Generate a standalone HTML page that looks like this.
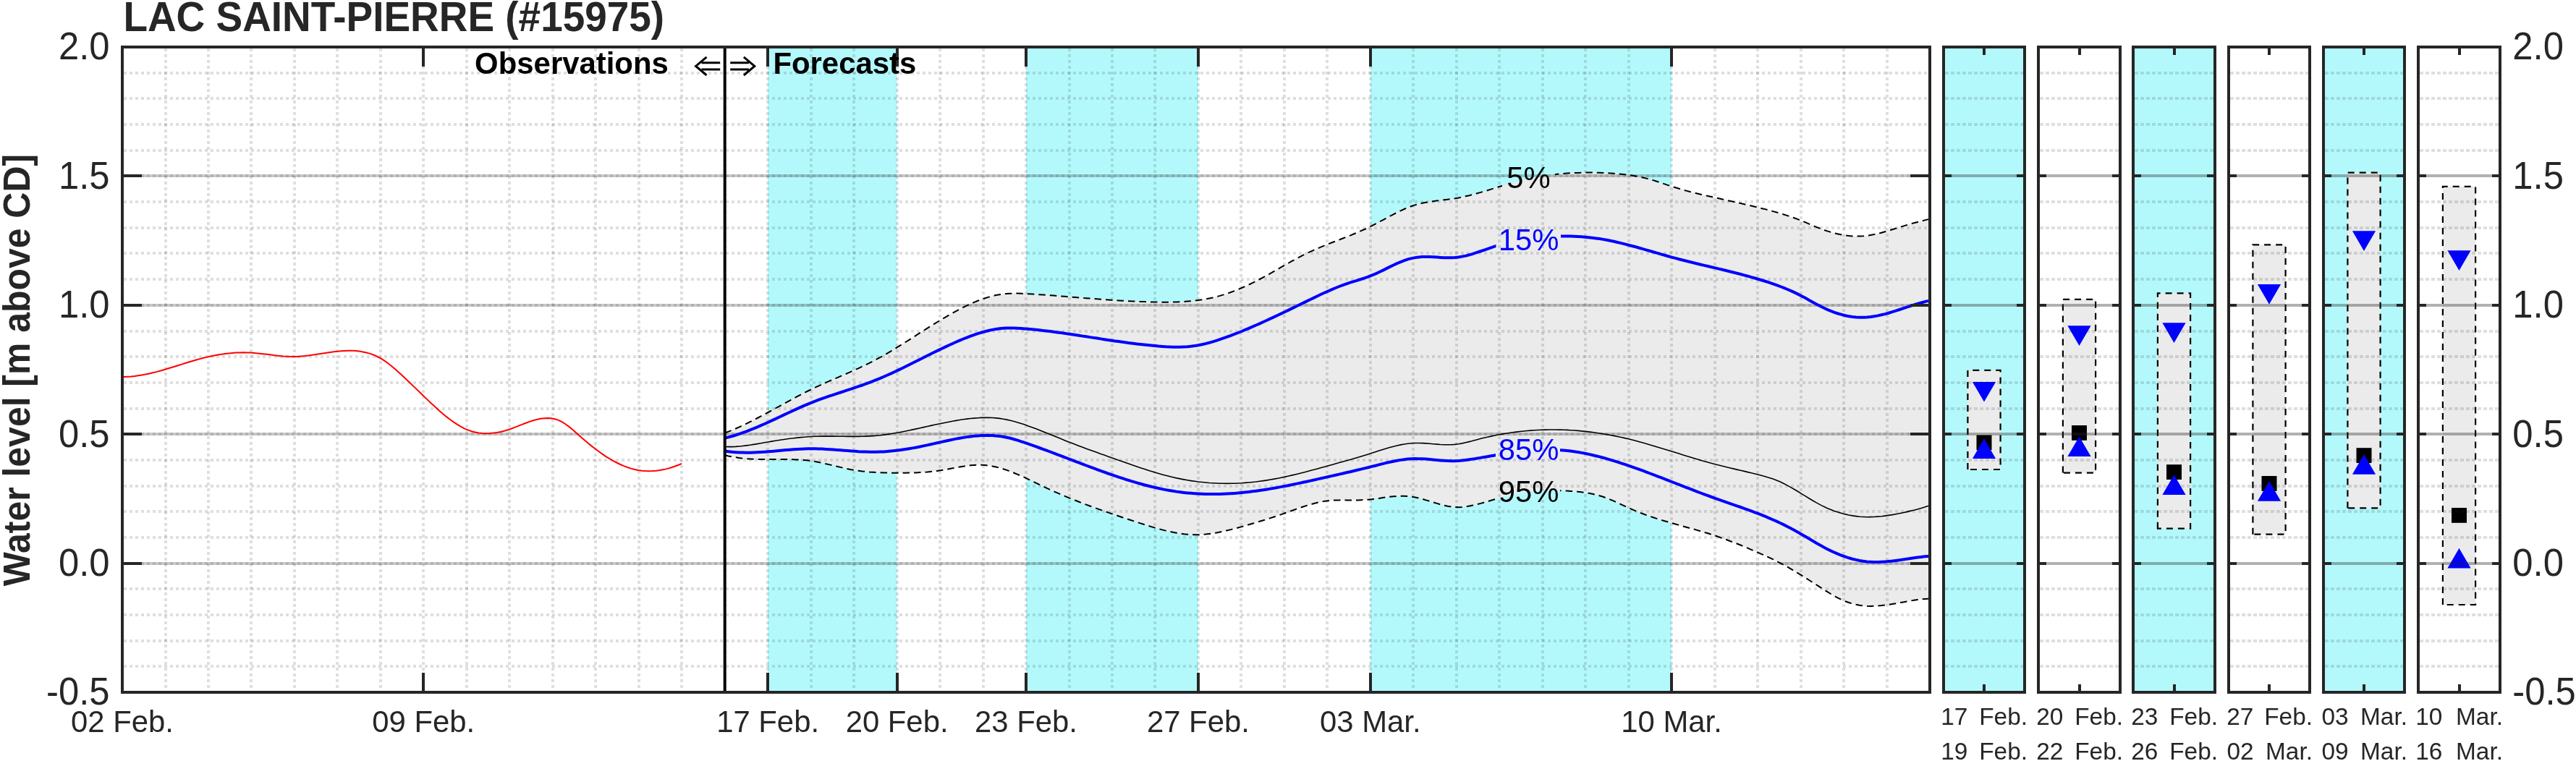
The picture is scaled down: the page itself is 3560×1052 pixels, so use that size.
<!DOCTYPE html>
<html><head><meta charset="utf-8"><title>LAC SAINT-PIERRE (#15975)</title>
<style>html,body{margin:0;padding:0;background:#fff;}body{width:3560px;height:1052px;overflow:hidden;}svg{display:block;will-change:transform;}text{font-family:"Liberation Sans", sans-serif;}</style></head><body>
<svg width="3560" height="1052" viewBox="0 0 3560 1052">
<rect x="0" y="0" width="3560" height="1052" fill="#fff"/>
<rect x="1061.1" y="65.0" width="178.4" height="892.0" fill="#b3f9fc"/>
<rect x="1418.0" y="65.0" width="237.9" height="892.0" fill="#b3f9fc"/>
<rect x="1893.8" y="65.0" width="416.3" height="892.0" fill="#b3f9fc"/>
<path d="M1001.7 598.5 L1006.7 596.6 L1011.7 594.6 L1016.7 592.5 L1021.6 590.3 L1026.6 588.0 L1031.6 585.6 L1036.6 583.1 L1041.6 580.6 L1046.6 578.0 L1051.6 575.4 L1056.6 572.7 L1061.6 570.0 L1066.6 567.3 L1071.6 564.5 L1076.6 561.8 L1081.6 559.0 L1086.6 556.3 L1091.6 553.6 L1096.6 550.9 L1101.6 548.2 L1106.6 545.6 L1111.6 543.0 L1116.6 540.5 L1121.5 538.0 L1126.5 535.7 L1131.5 533.3 L1136.5 531.1 L1141.5 528.8 L1146.5 526.6 L1151.5 524.4 L1156.5 522.3 L1161.5 520.1 L1166.5 518.0 L1171.5 515.8 L1176.5 513.6 L1181.5 511.3 L1186.5 509.1 L1191.5 506.7 L1196.5 504.3 L1201.5 501.9 L1206.5 499.3 L1211.5 496.7 L1216.5 494.0 L1221.4 491.2 L1226.4 488.3 L1231.4 485.3 L1236.4 482.3 L1241.4 479.2 L1246.4 476.1 L1251.4 473.0 L1256.4 469.8 L1261.4 466.6 L1266.4 463.4 L1271.4 460.2 L1276.4 457.1 L1281.4 453.9 L1286.4 450.7 L1291.4 447.6 L1296.4 444.5 L1301.4 441.5 L1306.4 438.6 L1311.4 435.6 L1316.4 432.8 L1321.3 430.1 L1326.3 427.4 L1331.3 424.9 L1336.3 422.4 L1341.3 420.1 L1346.3 417.9 L1351.3 415.8 L1356.3 413.9 L1361.3 412.2 L1366.3 410.6 L1371.3 409.3 L1376.3 408.1 L1381.3 407.2 L1386.3 406.4 L1391.3 405.9 L1396.3 405.7 L1401.3 405.6 L1406.3 405.6 L1411.3 405.8 L1416.3 406.0 L1421.2 406.2 L1426.2 406.5 L1431.2 406.8 L1436.2 407.2 L1441.2 407.5 L1446.2 407.8 L1451.2 408.2 L1456.2 408.6 L1461.2 409.0 L1466.2 409.4 L1471.2 409.8 L1476.2 410.2 L1481.2 410.6 L1486.2 411.0 L1491.2 411.4 L1496.2 411.8 L1501.2 412.2 L1506.2 412.6 L1511.2 412.9 L1516.2 413.3 L1521.1 413.7 L1526.1 414.1 L1531.1 414.4 L1536.1 414.8 L1541.1 415.1 L1546.1 415.4 L1551.1 415.7 L1556.1 416.0 L1561.1 416.3 L1566.1 416.5 L1571.1 416.7 L1576.1 416.9 L1581.1 417.1 L1586.1 417.3 L1591.1 417.4 L1596.1 417.6 L1601.1 417.6 L1606.1 417.7 L1611.1 417.7 L1616.1 417.7 L1621.0 417.6 L1626.0 417.5 L1631.0 417.3 L1636.0 417.0 L1641.0 416.6 L1646.0 416.2 L1651.0 415.7 L1656.0 415.0 L1661.0 414.3 L1666.0 413.5 L1671.0 412.5 L1676.0 411.4 L1681.0 410.2 L1686.0 408.9 L1691.0 407.4 L1696.0 405.8 L1701.0 404.0 L1706.0 402.1 L1711.0 400.1 L1716.0 398.0 L1720.9 395.8 L1725.9 393.5 L1730.9 391.1 L1735.9 388.6 L1740.9 386.0 L1745.9 383.3 L1750.9 380.6 L1755.9 377.8 L1760.9 374.9 L1765.9 372.1 L1770.9 369.2 L1775.9 366.3 L1780.9 363.5 L1785.9 360.7 L1790.9 358.0 L1795.9 355.3 L1800.9 352.7 L1805.9 350.3 L1810.9 347.9 L1815.9 345.6 L1820.8 343.5 L1825.8 341.4 L1830.8 339.3 L1835.8 337.3 L1840.8 335.3 L1845.8 333.4 L1850.8 331.5 L1855.8 329.5 L1860.8 327.5 L1865.8 325.6 L1870.8 323.5 L1875.8 321.4 L1880.8 319.2 L1885.8 317.0 L1890.8 314.6 L1895.8 312.2 L1900.8 309.6 L1905.8 306.9 L1910.8 304.3 L1915.8 301.6 L1920.7 298.9 L1925.7 296.3 L1930.7 293.7 L1935.7 291.3 L1940.7 289.0 L1945.7 286.9 L1950.7 285.0 L1955.7 283.4 L1960.7 282.0 L1965.7 280.8 L1970.7 279.8 L1975.7 278.9 L1980.7 278.2 L1985.7 277.5 L1990.7 276.9 L1995.7 276.3 L2000.7 275.7 L2005.7 275.0 L2010.7 274.3 L2015.7 273.4 L2020.6 272.4 L2025.6 271.3 L2030.6 270.2 L2035.6 268.9 L2040.6 267.5 L2045.6 266.1 L2050.6 264.7 L2055.6 263.2 L2060.6 261.6 L2065.6 260.1 L2070.6 258.5 L2075.6 257.0 L2080.6 255.5 L2085.6 254.0 L2090.6 252.6 L2095.6 251.2 L2100.6 249.9 L2105.6 248.6 L2110.6 247.5 L2115.6 246.4 L2120.5 245.4 L2125.5 244.5 L2130.5 243.6 L2135.5 242.8 L2140.5 242.1 L2145.5 241.5 L2150.5 240.9 L2155.5 240.4 L2160.5 240.0 L2165.5 239.6 L2170.5 239.3 L2175.5 239.0 L2180.5 238.9 L2185.5 238.7 L2190.5 238.6 L2195.5 238.6 L2200.5 238.6 L2205.5 238.7 L2210.5 238.8 L2215.5 239.0 L2220.4 239.2 L2225.4 239.5 L2230.4 239.8 L2235.4 240.2 L2240.4 240.7 L2245.4 241.2 L2250.4 241.8 L2255.4 242.5 L2260.4 243.4 L2265.4 244.3 L2270.4 245.4 L2275.4 246.6 L2280.4 247.9 L2285.4 249.4 L2290.4 251.0 L2295.4 252.7 L2300.4 254.4 L2305.4 256.1 L2310.4 257.7 L2315.4 259.3 L2320.3 260.8 L2325.3 262.3 L2330.3 263.6 L2335.3 265.0 L2340.3 266.2 L2345.3 267.5 L2350.3 268.7 L2355.3 269.8 L2360.3 271.0 L2365.3 272.1 L2370.3 273.2 L2375.3 274.3 L2380.3 275.4 L2385.3 276.6 L2390.3 277.7 L2395.3 278.8 L2400.3 279.9 L2405.3 281.0 L2410.3 282.2 L2415.3 283.3 L2420.2 284.5 L2425.2 285.7 L2430.2 286.9 L2435.2 288.2 L2440.2 289.4 L2445.2 290.7 L2450.2 292.1 L2455.2 293.5 L2460.2 294.9 L2465.2 296.5 L2470.2 298.1 L2475.2 299.7 L2480.2 301.5 L2485.2 303.4 L2490.2 305.4 L2495.2 307.4 L2500.2 309.6 L2505.2 311.7 L2510.2 313.8 L2515.2 315.8 L2520.1 317.7 L2525.1 319.4 L2530.1 320.9 L2535.1 322.3 L2540.1 323.5 L2545.1 324.6 L2550.1 325.4 L2555.1 326.0 L2560.1 326.4 L2565.1 326.6 L2570.1 326.6 L2575.1 326.3 L2580.1 325.8 L2585.1 325.0 L2590.1 324.1 L2595.1 323.0 L2600.1 321.7 L2605.1 320.3 L2610.1 318.9 L2615.1 317.3 L2620.0 315.8 L2625.0 314.2 L2630.0 312.6 L2635.0 311.1 L2640.0 309.6 L2645.0 308.3 L2650.0 307.0 L2655.0 305.7 L2660.0 304.4 L2665.0 303.1 L2665.0 827.7 L2660.0 828.0 L2655.0 828.5 L2650.0 829.1 L2645.0 829.8 L2640.0 830.6 L2635.0 831.5 L2630.0 832.4 L2625.0 833.3 L2620.0 834.2 L2615.1 835.0 L2610.1 835.8 L2605.1 836.5 L2600.1 837.1 L2595.1 837.5 L2590.1 837.8 L2585.1 837.9 L2580.1 837.7 L2575.1 837.3 L2570.1 836.7 L2565.1 835.7 L2560.1 834.5 L2555.1 833.0 L2550.1 831.2 L2545.1 829.0 L2540.1 826.6 L2535.1 823.9 L2530.1 821.0 L2525.1 817.9 L2520.1 814.8 L2515.2 811.6 L2510.2 808.4 L2505.2 805.2 L2500.2 802.0 L2495.2 798.8 L2490.2 795.7 L2485.2 792.6 L2480.2 789.6 L2475.2 786.6 L2470.2 783.7 L2465.2 780.9 L2460.2 778.3 L2455.2 775.7 L2450.2 773.2 L2445.2 770.8 L2440.2 768.5 L2435.2 766.3 L2430.2 764.1 L2425.2 761.9 L2420.2 759.8 L2415.3 757.7 L2410.3 755.6 L2405.3 753.5 L2400.3 751.5 L2395.3 749.6 L2390.3 747.7 L2385.3 745.8 L2380.3 744.0 L2375.3 742.2 L2370.3 740.5 L2365.3 738.9 L2360.3 737.3 L2355.3 735.8 L2350.3 734.3 L2345.3 732.9 L2340.3 731.4 L2335.3 730.0 L2330.3 728.7 L2325.3 727.3 L2320.3 725.9 L2315.4 724.5 L2310.4 723.1 L2305.4 721.6 L2300.4 720.2 L2295.4 718.7 L2290.4 717.1 L2285.4 715.5 L2280.4 713.8 L2275.4 712.1 L2270.4 710.2 L2265.4 708.3 L2260.4 706.3 L2255.4 704.2 L2250.4 702.0 L2245.4 699.7 L2240.4 697.4 L2235.4 695.0 L2230.4 692.7 L2225.4 690.6 L2220.4 688.6 L2215.5 686.8 L2210.5 685.3 L2205.5 683.9 L2200.5 682.8 L2195.5 681.8 L2190.5 681.0 L2185.5 680.3 L2180.5 679.7 L2175.5 679.3 L2170.5 678.9 L2165.5 678.6 L2160.5 678.4 L2155.5 678.3 L2150.5 678.1 L2145.5 678.1 L2140.5 678.0 L2135.5 678.1 L2130.5 678.2 L2125.5 678.5 L2120.5 678.8 L2115.6 679.3 L2110.6 679.8 L2105.6 680.5 L2100.6 681.4 L2095.6 682.4 L2090.6 683.5 L2085.6 684.7 L2080.6 686.1 L2075.6 687.4 L2070.6 688.9 L2065.6 690.3 L2060.6 691.8 L2055.6 693.3 L2050.6 694.7 L2045.6 696.1 L2040.6 697.4 L2035.6 698.5 L2030.6 699.6 L2025.6 700.4 L2020.6 701.0 L2015.7 701.2 L2010.7 701.1 L2005.7 700.6 L2000.7 699.8 L1995.7 698.7 L1990.7 697.4 L1985.7 695.9 L1980.7 694.4 L1975.7 692.9 L1970.7 691.4 L1965.7 689.9 L1960.7 688.6 L1955.7 687.5 L1950.7 686.7 L1945.7 686.1 L1940.7 685.8 L1935.7 685.8 L1930.7 685.9 L1925.7 686.3 L1920.7 686.8 L1915.8 687.4 L1910.8 688.1 L1905.8 688.9 L1900.8 689.6 L1895.8 690.2 L1890.8 690.7 L1885.8 691.0 L1880.8 691.2 L1875.8 691.4 L1870.8 691.4 L1865.8 691.4 L1860.8 691.4 L1855.8 691.3 L1850.8 691.4 L1845.8 691.5 L1840.8 691.7 L1835.8 692.2 L1830.8 692.8 L1825.8 693.7 L1820.8 694.7 L1815.9 696.0 L1810.9 697.4 L1805.9 698.9 L1800.9 700.5 L1795.9 702.2 L1790.9 703.9 L1785.9 705.7 L1780.9 707.5 L1775.9 709.3 L1770.9 711.1 L1765.9 712.8 L1760.9 714.5 L1755.9 716.1 L1750.9 717.7 L1745.9 719.3 L1740.9 720.8 L1735.9 722.3 L1730.9 723.8 L1725.9 725.3 L1720.9 726.7 L1716.0 728.1 L1711.0 729.5 L1706.0 730.8 L1701.0 732.1 L1696.0 733.3 L1691.0 734.5 L1686.0 735.5 L1681.0 736.5 L1676.0 737.3 L1671.0 738.0 L1666.0 738.6 L1661.0 739.0 L1656.0 739.2 L1651.0 739.2 L1646.0 739.0 L1641.0 738.7 L1636.0 738.2 L1631.0 737.5 L1626.0 736.7 L1621.0 735.8 L1616.1 734.8 L1611.1 733.6 L1606.1 732.4 L1601.1 731.0 L1596.1 729.6 L1591.1 728.1 L1586.1 726.6 L1581.1 725.0 L1576.1 723.4 L1571.1 721.8 L1566.1 720.1 L1561.1 718.5 L1556.1 716.8 L1551.1 715.2 L1546.1 713.5 L1541.1 711.8 L1536.1 710.1 L1531.1 708.4 L1526.1 706.6 L1521.1 704.9 L1516.2 703.1 L1511.2 701.3 L1506.2 699.5 L1501.2 697.6 L1496.2 695.7 L1491.2 693.8 L1486.2 691.8 L1481.2 689.8 L1476.2 687.8 L1471.2 685.7 L1466.2 683.6 L1461.2 681.4 L1456.2 679.2 L1451.2 676.9 L1446.2 674.6 L1441.2 672.2 L1436.2 669.8 L1431.2 667.4 L1426.2 664.9 L1421.2 662.6 L1416.3 660.2 L1411.3 657.9 L1406.3 655.8 L1401.3 653.7 L1396.3 651.7 L1391.3 649.9 L1386.3 648.2 L1381.3 646.7 L1376.3 645.5 L1371.3 644.4 L1366.3 643.6 L1361.3 643.0 L1356.3 642.7 L1351.3 642.7 L1346.3 642.9 L1341.3 643.3 L1336.3 643.9 L1331.3 644.7 L1326.3 645.5 L1321.3 646.4 L1316.4 647.3 L1311.4 648.3 L1306.4 649.2 L1301.4 650.1 L1296.4 650.8 L1291.4 651.5 L1286.4 652.0 L1281.4 652.5 L1276.4 652.8 L1271.4 653.1 L1266.4 653.4 L1261.4 653.5 L1256.4 653.6 L1251.4 653.7 L1246.4 653.7 L1241.4 653.8 L1236.4 653.7 L1231.4 653.7 L1226.4 653.6 L1221.4 653.5 L1216.5 653.3 L1211.5 653.1 L1206.5 652.8 L1201.5 652.5 L1196.5 652.0 L1191.5 651.5 L1186.5 650.8 L1181.5 650.0 L1176.5 649.2 L1171.5 648.2 L1166.5 647.1 L1161.5 645.9 L1156.5 644.7 L1151.5 643.5 L1146.5 642.4 L1141.5 641.2 L1136.5 640.1 L1131.5 639.0 L1126.5 638.1 L1121.5 637.3 L1116.6 636.6 L1111.6 636.1 L1106.6 635.7 L1101.6 635.4 L1096.6 635.2 L1091.6 635.0 L1086.6 635.0 L1081.6 635.0 L1076.6 635.0 L1071.6 635.0 L1066.6 635.0 L1061.6 635.1 L1056.6 635.1 L1051.6 635.0 L1046.6 634.9 L1041.6 634.8 L1036.6 634.5 L1031.6 634.2 L1026.6 633.7 L1021.6 633.1 L1016.7 632.3 L1011.7 631.4 L1006.7 630.4 L1001.7 629.1 Z" fill="#ebebeb"/>
<g stroke="#262626" stroke-opacity="0.15" stroke-width="4" fill="none" shape-rendering="crispEdges">
<line x1="228.5" y1="67.0" x2="228.5" y2="955.0" stroke-dasharray="4 4"/>
<line x1="288.0" y1="67.0" x2="288.0" y2="955.0" stroke-dasharray="4 4"/>
<line x1="347.4" y1="67.0" x2="347.4" y2="955.0" stroke-dasharray="4 4"/>
<line x1="406.9" y1="67.0" x2="406.9" y2="955.0" stroke-dasharray="4 4"/>
<line x1="466.4" y1="67.0" x2="466.4" y2="955.0" stroke-dasharray="4 4"/>
<line x1="525.9" y1="67.0" x2="525.9" y2="955.0" stroke-dasharray="4 4"/>
<line x1="585.3" y1="67.0" x2="585.3" y2="955.0" stroke-dasharray="4 4"/>
<line x1="644.8" y1="67.0" x2="644.8" y2="955.0" stroke-dasharray="4 4"/>
<line x1="704.3" y1="67.0" x2="704.3" y2="955.0" stroke-dasharray="4 4"/>
<line x1="763.8" y1="67.0" x2="763.8" y2="955.0" stroke-dasharray="4 4"/>
<line x1="823.2" y1="67.0" x2="823.2" y2="955.0" stroke-dasharray="4 4"/>
<line x1="882.7" y1="67.0" x2="882.7" y2="955.0" stroke-dasharray="4 4"/>
<line x1="942.2" y1="67.0" x2="942.2" y2="955.0" stroke-dasharray="4 4"/>
<line x1="1001.7" y1="67.0" x2="1001.7" y2="955.0" stroke-dasharray="4 4"/>
<line x1="1061.1" y1="67.0" x2="1061.1" y2="955.0" stroke-dasharray="4 4"/>
<line x1="1120.6" y1="67.0" x2="1120.6" y2="955.0" stroke-dasharray="4 4"/>
<line x1="1180.1" y1="67.0" x2="1180.1" y2="955.0" stroke-dasharray="4 4"/>
<line x1="1239.6" y1="67.0" x2="1239.6" y2="955.0" stroke-dasharray="4 4"/>
<line x1="1299.0" y1="67.0" x2="1299.0" y2="955.0" stroke-dasharray="4 4"/>
<line x1="1358.5" y1="67.0" x2="1358.5" y2="955.0" stroke-dasharray="4 4"/>
<line x1="1418.0" y1="67.0" x2="1418.0" y2="955.0" stroke-dasharray="4 4"/>
<line x1="1477.5" y1="67.0" x2="1477.5" y2="955.0" stroke-dasharray="4 4"/>
<line x1="1537.0" y1="67.0" x2="1537.0" y2="955.0" stroke-dasharray="4 4"/>
<line x1="1596.4" y1="67.0" x2="1596.4" y2="955.0" stroke-dasharray="4 4"/>
<line x1="1655.9" y1="67.0" x2="1655.9" y2="955.0" stroke-dasharray="4 4"/>
<line x1="1715.4" y1="67.0" x2="1715.4" y2="955.0" stroke-dasharray="4 4"/>
<line x1="1774.9" y1="67.0" x2="1774.9" y2="955.0" stroke-dasharray="4 4"/>
<line x1="1834.3" y1="67.0" x2="1834.3" y2="955.0" stroke-dasharray="4 4"/>
<line x1="1893.8" y1="67.0" x2="1893.8" y2="955.0" stroke-dasharray="4 4"/>
<line x1="1953.3" y1="67.0" x2="1953.3" y2="955.0" stroke-dasharray="4 4"/>
<line x1="2012.8" y1="67.0" x2="2012.8" y2="955.0" stroke-dasharray="4 4"/>
<line x1="2072.2" y1="67.0" x2="2072.2" y2="955.0" stroke-dasharray="4 4"/>
<line x1="2131.7" y1="67.0" x2="2131.7" y2="955.0" stroke-dasharray="4 4"/>
<line x1="2191.2" y1="67.0" x2="2191.2" y2="955.0" stroke-dasharray="4 4"/>
<line x1="2250.7" y1="67.0" x2="2250.7" y2="955.0" stroke-dasharray="4 4"/>
<line x1="2310.1" y1="67.0" x2="2310.1" y2="955.0" stroke-dasharray="4 4"/>
<line x1="2369.6" y1="67.0" x2="2369.6" y2="955.0" stroke-dasharray="4 4"/>
<line x1="2429.1" y1="67.0" x2="2429.1" y2="955.0" stroke-dasharray="4 4"/>
<line x1="2488.6" y1="67.0" x2="2488.6" y2="955.0" stroke-dasharray="4 4"/>
<line x1="2548.0" y1="67.0" x2="2548.0" y2="955.0" stroke-dasharray="4 4"/>
<line x1="2607.5" y1="67.0" x2="2607.5" y2="955.0" stroke-dasharray="4 4"/>
<line x1="171.0" y1="921.3" x2="2665.0" y2="921.3" stroke-dasharray="4 4"/>
<line x1="171.0" y1="885.6" x2="2665.0" y2="885.6" stroke-dasharray="4 4"/>
<line x1="171.0" y1="850.0" x2="2665.0" y2="850.0" stroke-dasharray="4 4"/>
<line x1="171.0" y1="814.3" x2="2665.0" y2="814.3" stroke-dasharray="4 4"/>
<line x1="171.0" y1="778.6" x2="2665.0" y2="778.6" stroke-dasharray="4 4"/>
<line x1="171.0" y1="742.9" x2="2665.0" y2="742.9" stroke-dasharray="4 4"/>
<line x1="171.0" y1="707.2" x2="2665.0" y2="707.2" stroke-dasharray="4 4"/>
<line x1="171.0" y1="671.6" x2="2665.0" y2="671.6" stroke-dasharray="4 4"/>
<line x1="171.0" y1="635.9" x2="2665.0" y2="635.9" stroke-dasharray="4 4"/>
<line x1="171.0" y1="600.2" x2="2665.0" y2="600.2" stroke-dasharray="4 4"/>
<line x1="171.0" y1="564.5" x2="2665.0" y2="564.5" stroke-dasharray="4 4"/>
<line x1="171.0" y1="528.8" x2="2665.0" y2="528.8" stroke-dasharray="4 4"/>
<line x1="171.0" y1="493.2" x2="2665.0" y2="493.2" stroke-dasharray="4 4"/>
<line x1="171.0" y1="457.5" x2="2665.0" y2="457.5" stroke-dasharray="4 4"/>
<line x1="171.0" y1="421.8" x2="2665.0" y2="421.8" stroke-dasharray="4 4"/>
<line x1="171.0" y1="386.1" x2="2665.0" y2="386.1" stroke-dasharray="4 4"/>
<line x1="171.0" y1="350.4" x2="2665.0" y2="350.4" stroke-dasharray="4 4"/>
<line x1="171.0" y1="314.8" x2="2665.0" y2="314.8" stroke-dasharray="4 4"/>
<line x1="171.0" y1="279.1" x2="2665.0" y2="279.1" stroke-dasharray="4 4"/>
<line x1="171.0" y1="243.4" x2="2665.0" y2="243.4" stroke-dasharray="4 4"/>
<line x1="171.0" y1="207.7" x2="2665.0" y2="207.7" stroke-dasharray="4 4"/>
<line x1="171.0" y1="172.0" x2="2665.0" y2="172.0" stroke-dasharray="4 4"/>
<line x1="171.0" y1="136.4" x2="2665.0" y2="136.4" stroke-dasharray="4 4"/>
<line x1="171.0" y1="100.7" x2="2665.0" y2="100.7" stroke-dasharray="4 4"/>
<line x1="171.0" y1="778.6" x2="2665.0" y2="778.6" stroke-opacity="0.25"/>
<line x1="171.0" y1="600.2" x2="2665.0" y2="600.2" stroke-opacity="0.25"/>
<line x1="171.0" y1="421.8" x2="2665.0" y2="421.8" stroke-opacity="0.25"/>
<line x1="171.0" y1="243.4" x2="2665.0" y2="243.4" stroke-opacity="0.25"/>
</g>
<defs>
<clipPath id="c5"><path clip-rule="evenodd" d="M0 0H3560 V1052 H0Z M2076.0 225.0 H2149.0 V266.0 H2076.0Z"/></clipPath>
<clipPath id="c15"><path clip-rule="evenodd" d="M0 0H3560 V1052 H0Z M2067.5 310.0 H2157.0 V352.0 H2067.5Z"/></clipPath>
<clipPath id="c85"><path clip-rule="evenodd" d="M0 0H3560 V1052 H0Z M2067.0 600.0 H2156.0 V642.0 H2067.0Z"/></clipPath>
<clipPath id="c95"><path clip-rule="evenodd" d="M0 0H3560 V1052 H0Z M2069.0 659.0 H2156.0 V700.0 H2069.0Z"/></clipPath>
</defs>
<path d="M171.0 521.0 L176.0 520.8 L181.0 520.5 L186.0 520.0 L191.0 519.3 L196.0 518.5 L201.0 517.6 L206.1 516.5 L211.1 515.3 L216.1 514.1 L221.1 512.7 L226.1 511.3 L231.1 509.8 L236.1 508.3 L241.1 506.7 L246.1 505.2 L251.1 503.6 L256.1 502.0 L261.1 500.5 L266.1 499.0 L271.2 497.5 L276.2 496.1 L281.2 494.8 L286.2 493.6 L291.2 492.4 L296.2 491.4 L301.2 490.5 L306.2 489.7 L311.2 489.0 L316.2 488.4 L321.2 487.9 L326.2 487.6 L331.2 487.4 L336.3 487.3 L341.3 487.4 L346.3 487.6 L351.3 487.9 L356.3 488.4 L361.3 488.9 L366.3 489.5 L371.3 490.1 L376.3 490.8 L381.3 491.4 L386.3 491.9 L391.3 492.4 L396.3 492.7 L401.4 493.0 L406.4 493.0 L411.4 492.9 L416.4 492.5 L421.4 492.1 L426.4 491.5 L431.4 490.8 L436.4 490.1 L441.4 489.3 L446.4 488.5 L451.4 487.7 L456.4 487.0 L461.4 486.3 L466.5 485.7 L471.5 485.2 L476.5 484.9 L481.5 484.8 L486.5 484.8 L491.5 485.1 L496.5 485.6 L501.5 486.4 L506.5 487.5 L511.5 488.9 L516.5 490.7 L521.5 493.0 L526.5 495.7 L531.6 498.9 L536.6 502.5 L541.6 506.5 L546.6 510.7 L551.6 515.2 L556.6 519.8 L561.6 524.5 L566.6 529.2 L571.6 534.1 L576.6 538.9 L581.6 543.7 L586.6 548.6 L591.6 553.4 L596.7 558.2 L601.7 562.8 L606.7 567.4 L611.7 571.7 L616.7 575.9 L621.7 579.8 L626.7 583.4 L631.7 586.7 L636.7 589.7 L641.7 592.3 L646.7 594.4 L651.7 596.2 L656.7 597.5 L661.8 598.4 L666.8 599.0 L671.8 599.2 L676.8 599.1 L681.8 598.6 L686.8 597.9 L691.8 596.9 L696.8 595.7 L701.8 594.2 L706.8 592.5 L711.8 590.6 L716.8 588.6 L721.9 586.6 L726.9 584.7 L731.9 582.9 L736.9 581.2 L741.9 579.9 L746.9 578.8 L751.9 578.2 L756.9 578.0 L761.9 578.3 L766.9 579.3 L771.9 580.9 L776.9 583.3 L781.9 586.5 L787.0 590.4 L792.0 594.6 L797.0 599.0 L802.0 603.4 L807.0 607.7 L812.0 611.9 L817.0 616.1 L822.0 620.0 L827.0 623.8 L832.0 627.4 L837.0 630.8 L842.0 633.9 L847.0 636.9 L852.1 639.5 L857.1 642.0 L862.1 644.1 L867.1 646.0 L872.1 647.6 L877.1 649.0 L882.1 650.0 L887.1 650.7 L892.1 651.1 L897.1 651.2 L902.1 651.1 L907.1 650.7 L912.1 650.0 L917.2 649.1 L922.2 647.9 L927.2 646.5 L932.2 644.8 L937.2 643.0 L942.2 640.9" fill="none" stroke="#ff0000" stroke-width="2"/>
<g clip-path="url(#c5)"><path d="M1001.7 598.5 L1006.7 596.6 L1011.7 594.6 L1016.7 592.5 L1021.6 590.3 L1026.6 588.0 L1031.6 585.6 L1036.6 583.1 L1041.6 580.6 L1046.6 578.0 L1051.6 575.4 L1056.6 572.7 L1061.6 570.0 L1066.6 567.3 L1071.6 564.5 L1076.6 561.8 L1081.6 559.0 L1086.6 556.3 L1091.6 553.6 L1096.6 550.9 L1101.6 548.2 L1106.6 545.6 L1111.6 543.0 L1116.6 540.5 L1121.5 538.0 L1126.5 535.7 L1131.5 533.3 L1136.5 531.1 L1141.5 528.8 L1146.5 526.6 L1151.5 524.4 L1156.5 522.3 L1161.5 520.1 L1166.5 518.0 L1171.5 515.8 L1176.5 513.6 L1181.5 511.3 L1186.5 509.1 L1191.5 506.7 L1196.5 504.3 L1201.5 501.9 L1206.5 499.3 L1211.5 496.7 L1216.5 494.0 L1221.4 491.2 L1226.4 488.3 L1231.4 485.3 L1236.4 482.3 L1241.4 479.2 L1246.4 476.1 L1251.4 473.0 L1256.4 469.8 L1261.4 466.6 L1266.4 463.4 L1271.4 460.2 L1276.4 457.1 L1281.4 453.9 L1286.4 450.7 L1291.4 447.6 L1296.4 444.5 L1301.4 441.5 L1306.4 438.6 L1311.4 435.6 L1316.4 432.8 L1321.3 430.1 L1326.3 427.4 L1331.3 424.9 L1336.3 422.4 L1341.3 420.1 L1346.3 417.9 L1351.3 415.8 L1356.3 413.9 L1361.3 412.2 L1366.3 410.6 L1371.3 409.3 L1376.3 408.1 L1381.3 407.2 L1386.3 406.4 L1391.3 405.9 L1396.3 405.7 L1401.3 405.6 L1406.3 405.6 L1411.3 405.8 L1416.3 406.0 L1421.2 406.2 L1426.2 406.5 L1431.2 406.8 L1436.2 407.2 L1441.2 407.5 L1446.2 407.8 L1451.2 408.2 L1456.2 408.6 L1461.2 409.0 L1466.2 409.4 L1471.2 409.8 L1476.2 410.2 L1481.2 410.6 L1486.2 411.0 L1491.2 411.4 L1496.2 411.8 L1501.2 412.2 L1506.2 412.6 L1511.2 412.9 L1516.2 413.3 L1521.1 413.7 L1526.1 414.1 L1531.1 414.4 L1536.1 414.8 L1541.1 415.1 L1546.1 415.4 L1551.1 415.7 L1556.1 416.0 L1561.1 416.3 L1566.1 416.5 L1571.1 416.7 L1576.1 416.9 L1581.1 417.1 L1586.1 417.3 L1591.1 417.4 L1596.1 417.6 L1601.1 417.6 L1606.1 417.7 L1611.1 417.7 L1616.1 417.7 L1621.0 417.6 L1626.0 417.5 L1631.0 417.3 L1636.0 417.0 L1641.0 416.6 L1646.0 416.2 L1651.0 415.7 L1656.0 415.0 L1661.0 414.3 L1666.0 413.5 L1671.0 412.5 L1676.0 411.4 L1681.0 410.2 L1686.0 408.9 L1691.0 407.4 L1696.0 405.8 L1701.0 404.0 L1706.0 402.1 L1711.0 400.1 L1716.0 398.0 L1720.9 395.8 L1725.9 393.5 L1730.9 391.1 L1735.9 388.6 L1740.9 386.0 L1745.9 383.3 L1750.9 380.6 L1755.9 377.8 L1760.9 374.9 L1765.9 372.1 L1770.9 369.2 L1775.9 366.3 L1780.9 363.5 L1785.9 360.7 L1790.9 358.0 L1795.9 355.3 L1800.9 352.7 L1805.9 350.3 L1810.9 347.9 L1815.9 345.6 L1820.8 343.5 L1825.8 341.4 L1830.8 339.3 L1835.8 337.3 L1840.8 335.3 L1845.8 333.4 L1850.8 331.5 L1855.8 329.5 L1860.8 327.5 L1865.8 325.6 L1870.8 323.5 L1875.8 321.4 L1880.8 319.2 L1885.8 317.0 L1890.8 314.6 L1895.8 312.2 L1900.8 309.6 L1905.8 306.9 L1910.8 304.3 L1915.8 301.6 L1920.7 298.9 L1925.7 296.3 L1930.7 293.7 L1935.7 291.3 L1940.7 289.0 L1945.7 286.9 L1950.7 285.0 L1955.7 283.4 L1960.7 282.0 L1965.7 280.8 L1970.7 279.8 L1975.7 278.9 L1980.7 278.2 L1985.7 277.5 L1990.7 276.9 L1995.7 276.3 L2000.7 275.7 L2005.7 275.0 L2010.7 274.3 L2015.7 273.4 L2020.6 272.4 L2025.6 271.3 L2030.6 270.2 L2035.6 268.9 L2040.6 267.5 L2045.6 266.1 L2050.6 264.7 L2055.6 263.2 L2060.6 261.6 L2065.6 260.1 L2070.6 258.5 L2075.6 257.0 L2080.6 255.5 L2085.6 254.0 L2090.6 252.6 L2095.6 251.2 L2100.6 249.9 L2105.6 248.6 L2110.6 247.5 L2115.6 246.4 L2120.5 245.4 L2125.5 244.5 L2130.5 243.6 L2135.5 242.8 L2140.5 242.1 L2145.5 241.5 L2150.5 240.9 L2155.5 240.4 L2160.5 240.0 L2165.5 239.6 L2170.5 239.3 L2175.5 239.0 L2180.5 238.9 L2185.5 238.7 L2190.5 238.6 L2195.5 238.6 L2200.5 238.6 L2205.5 238.7 L2210.5 238.8 L2215.5 239.0 L2220.4 239.2 L2225.4 239.5 L2230.4 239.8 L2235.4 240.2 L2240.4 240.7 L2245.4 241.2 L2250.4 241.8 L2255.4 242.5 L2260.4 243.4 L2265.4 244.3 L2270.4 245.4 L2275.4 246.6 L2280.4 247.9 L2285.4 249.4 L2290.4 251.0 L2295.4 252.7 L2300.4 254.4 L2305.4 256.1 L2310.4 257.7 L2315.4 259.3 L2320.3 260.8 L2325.3 262.3 L2330.3 263.6 L2335.3 265.0 L2340.3 266.2 L2345.3 267.5 L2350.3 268.7 L2355.3 269.8 L2360.3 271.0 L2365.3 272.1 L2370.3 273.2 L2375.3 274.3 L2380.3 275.4 L2385.3 276.6 L2390.3 277.7 L2395.3 278.8 L2400.3 279.9 L2405.3 281.0 L2410.3 282.2 L2415.3 283.3 L2420.2 284.5 L2425.2 285.7 L2430.2 286.9 L2435.2 288.2 L2440.2 289.4 L2445.2 290.7 L2450.2 292.1 L2455.2 293.5 L2460.2 294.9 L2465.2 296.5 L2470.2 298.1 L2475.2 299.7 L2480.2 301.5 L2485.2 303.4 L2490.2 305.4 L2495.2 307.4 L2500.2 309.6 L2505.2 311.7 L2510.2 313.8 L2515.2 315.8 L2520.1 317.7 L2525.1 319.4 L2530.1 320.9 L2535.1 322.3 L2540.1 323.5 L2545.1 324.6 L2550.1 325.4 L2555.1 326.0 L2560.1 326.4 L2565.1 326.6 L2570.1 326.6 L2575.1 326.3 L2580.1 325.8 L2585.1 325.0 L2590.1 324.1 L2595.1 323.0 L2600.1 321.7 L2605.1 320.3 L2610.1 318.9 L2615.1 317.3 L2620.0 315.8 L2625.0 314.2 L2630.0 312.6 L2635.0 311.1 L2640.0 309.6 L2645.0 308.3 L2650.0 307.0 L2655.0 305.7 L2660.0 304.4 L2665.0 303.1" fill="none" stroke="#000" stroke-width="2" stroke-dasharray="9.5 6"/></g>
<g clip-path="url(#c95)"><path d="M1001.7 629.1 L1006.7 630.4 L1011.7 631.4 L1016.7 632.3 L1021.6 633.1 L1026.6 633.7 L1031.6 634.2 L1036.6 634.5 L1041.6 634.8 L1046.6 634.9 L1051.6 635.0 L1056.6 635.1 L1061.6 635.1 L1066.6 635.0 L1071.6 635.0 L1076.6 635.0 L1081.6 635.0 L1086.6 635.0 L1091.6 635.0 L1096.6 635.2 L1101.6 635.4 L1106.6 635.7 L1111.6 636.1 L1116.6 636.6 L1121.5 637.3 L1126.5 638.1 L1131.5 639.0 L1136.5 640.1 L1141.5 641.2 L1146.5 642.4 L1151.5 643.5 L1156.5 644.7 L1161.5 645.9 L1166.5 647.1 L1171.5 648.2 L1176.5 649.2 L1181.5 650.0 L1186.5 650.8 L1191.5 651.5 L1196.5 652.0 L1201.5 652.5 L1206.5 652.8 L1211.5 653.1 L1216.5 653.3 L1221.4 653.5 L1226.4 653.6 L1231.4 653.7 L1236.4 653.7 L1241.4 653.8 L1246.4 653.7 L1251.4 653.7 L1256.4 653.6 L1261.4 653.5 L1266.4 653.4 L1271.4 653.1 L1276.4 652.8 L1281.4 652.5 L1286.4 652.0 L1291.4 651.5 L1296.4 650.8 L1301.4 650.1 L1306.4 649.2 L1311.4 648.3 L1316.4 647.3 L1321.3 646.4 L1326.3 645.5 L1331.3 644.7 L1336.3 643.9 L1341.3 643.3 L1346.3 642.9 L1351.3 642.7 L1356.3 642.7 L1361.3 643.0 L1366.3 643.6 L1371.3 644.4 L1376.3 645.5 L1381.3 646.7 L1386.3 648.2 L1391.3 649.9 L1396.3 651.7 L1401.3 653.7 L1406.3 655.8 L1411.3 657.9 L1416.3 660.2 L1421.2 662.6 L1426.2 664.9 L1431.2 667.4 L1436.2 669.8 L1441.2 672.2 L1446.2 674.6 L1451.2 676.9 L1456.2 679.2 L1461.2 681.4 L1466.2 683.6 L1471.2 685.7 L1476.2 687.8 L1481.2 689.8 L1486.2 691.8 L1491.2 693.8 L1496.2 695.7 L1501.2 697.6 L1506.2 699.5 L1511.2 701.3 L1516.2 703.1 L1521.1 704.9 L1526.1 706.6 L1531.1 708.4 L1536.1 710.1 L1541.1 711.8 L1546.1 713.5 L1551.1 715.2 L1556.1 716.8 L1561.1 718.5 L1566.1 720.1 L1571.1 721.8 L1576.1 723.4 L1581.1 725.0 L1586.1 726.6 L1591.1 728.1 L1596.1 729.6 L1601.1 731.0 L1606.1 732.4 L1611.1 733.6 L1616.1 734.8 L1621.0 735.8 L1626.0 736.7 L1631.0 737.5 L1636.0 738.2 L1641.0 738.7 L1646.0 739.0 L1651.0 739.2 L1656.0 739.2 L1661.0 739.0 L1666.0 738.6 L1671.0 738.0 L1676.0 737.3 L1681.0 736.5 L1686.0 735.5 L1691.0 734.5 L1696.0 733.3 L1701.0 732.1 L1706.0 730.8 L1711.0 729.5 L1716.0 728.1 L1720.9 726.7 L1725.9 725.3 L1730.9 723.8 L1735.9 722.3 L1740.9 720.8 L1745.9 719.3 L1750.9 717.7 L1755.9 716.1 L1760.9 714.5 L1765.9 712.8 L1770.9 711.1 L1775.9 709.3 L1780.9 707.5 L1785.9 705.7 L1790.9 703.9 L1795.9 702.2 L1800.9 700.5 L1805.9 698.9 L1810.9 697.4 L1815.9 696.0 L1820.8 694.7 L1825.8 693.7 L1830.8 692.8 L1835.8 692.2 L1840.8 691.7 L1845.8 691.5 L1850.8 691.4 L1855.8 691.3 L1860.8 691.4 L1865.8 691.4 L1870.8 691.4 L1875.8 691.4 L1880.8 691.2 L1885.8 691.0 L1890.8 690.7 L1895.8 690.2 L1900.8 689.6 L1905.8 688.9 L1910.8 688.1 L1915.8 687.4 L1920.7 686.8 L1925.7 686.3 L1930.7 685.9 L1935.7 685.8 L1940.7 685.8 L1945.7 686.1 L1950.7 686.7 L1955.7 687.5 L1960.7 688.6 L1965.7 689.9 L1970.7 691.4 L1975.7 692.9 L1980.7 694.4 L1985.7 695.9 L1990.7 697.4 L1995.7 698.7 L2000.7 699.8 L2005.7 700.6 L2010.7 701.1 L2015.7 701.2 L2020.6 701.0 L2025.6 700.4 L2030.6 699.6 L2035.6 698.5 L2040.6 697.4 L2045.6 696.1 L2050.6 694.7 L2055.6 693.3 L2060.6 691.8 L2065.6 690.3 L2070.6 688.9 L2075.6 687.4 L2080.6 686.1 L2085.6 684.7 L2090.6 683.5 L2095.6 682.4 L2100.6 681.4 L2105.6 680.5 L2110.6 679.8 L2115.6 679.3 L2120.5 678.8 L2125.5 678.5 L2130.5 678.2 L2135.5 678.1 L2140.5 678.0 L2145.5 678.1 L2150.5 678.1 L2155.5 678.3 L2160.5 678.4 L2165.5 678.6 L2170.5 678.9 L2175.5 679.3 L2180.5 679.7 L2185.5 680.3 L2190.5 681.0 L2195.5 681.8 L2200.5 682.8 L2205.5 683.9 L2210.5 685.3 L2215.5 686.8 L2220.4 688.6 L2225.4 690.6 L2230.4 692.7 L2235.4 695.0 L2240.4 697.4 L2245.4 699.7 L2250.4 702.0 L2255.4 704.2 L2260.4 706.3 L2265.4 708.3 L2270.4 710.2 L2275.4 712.1 L2280.4 713.8 L2285.4 715.5 L2290.4 717.1 L2295.4 718.7 L2300.4 720.2 L2305.4 721.6 L2310.4 723.1 L2315.4 724.5 L2320.3 725.9 L2325.3 727.3 L2330.3 728.7 L2335.3 730.0 L2340.3 731.4 L2345.3 732.9 L2350.3 734.3 L2355.3 735.8 L2360.3 737.3 L2365.3 738.9 L2370.3 740.5 L2375.3 742.2 L2380.3 744.0 L2385.3 745.8 L2390.3 747.7 L2395.3 749.6 L2400.3 751.5 L2405.3 753.5 L2410.3 755.6 L2415.3 757.7 L2420.2 759.8 L2425.2 761.9 L2430.2 764.1 L2435.2 766.3 L2440.2 768.5 L2445.2 770.8 L2450.2 773.2 L2455.2 775.7 L2460.2 778.3 L2465.2 780.9 L2470.2 783.7 L2475.2 786.6 L2480.2 789.6 L2485.2 792.6 L2490.2 795.7 L2495.2 798.8 L2500.2 802.0 L2505.2 805.2 L2510.2 808.4 L2515.2 811.6 L2520.1 814.8 L2525.1 817.9 L2530.1 821.0 L2535.1 823.9 L2540.1 826.6 L2545.1 829.0 L2550.1 831.2 L2555.1 833.0 L2560.1 834.5 L2565.1 835.7 L2570.1 836.7 L2575.1 837.3 L2580.1 837.7 L2585.1 837.9 L2590.1 837.8 L2595.1 837.5 L2600.1 837.1 L2605.1 836.5 L2610.1 835.8 L2615.1 835.0 L2620.0 834.2 L2625.0 833.3 L2630.0 832.4 L2635.0 831.5 L2640.0 830.6 L2645.0 829.8 L2650.0 829.1 L2655.0 828.5 L2660.0 828.0 L2665.0 827.7" fill="none" stroke="#000" stroke-width="2" stroke-dasharray="9.5 6"/></g>
<path d="M1001.7 617.5 L1006.7 617.6 L1011.7 617.6 L1016.7 617.4 L1021.6 617.0 L1026.6 616.5 L1031.6 615.9 L1036.6 615.2 L1041.6 614.4 L1046.6 613.6 L1051.6 612.7 L1056.6 611.8 L1061.6 611.0 L1066.6 610.1 L1071.6 609.3 L1076.6 608.5 L1081.6 607.7 L1086.6 607.0 L1091.6 606.3 L1096.6 605.7 L1101.6 605.1 L1106.6 604.6 L1111.6 604.2 L1116.6 603.8 L1121.5 603.5 L1126.5 603.3 L1131.5 603.2 L1136.5 603.1 L1141.5 603.1 L1146.5 603.1 L1151.5 603.1 L1156.5 603.2 L1161.5 603.3 L1166.5 603.3 L1171.5 603.4 L1176.5 603.4 L1181.5 603.4 L1186.5 603.4 L1191.5 603.3 L1196.5 603.1 L1201.5 602.9 L1206.5 602.6 L1211.5 602.2 L1216.5 601.7 L1221.4 601.1 L1226.4 600.4 L1231.4 599.7 L1236.4 598.8 L1241.4 598.0 L1246.4 597.0 L1251.4 596.0 L1256.4 595.0 L1261.4 593.9 L1266.4 592.9 L1271.4 591.8 L1276.4 590.6 L1281.4 589.5 L1286.4 588.4 L1291.4 587.3 L1296.4 586.2 L1301.4 585.2 L1306.4 584.2 L1311.4 583.2 L1316.4 582.2 L1321.3 581.4 L1326.3 580.5 L1331.3 579.8 L1336.3 579.1 L1341.3 578.5 L1346.3 578.1 L1351.3 577.7 L1356.3 577.4 L1361.3 577.3 L1366.3 577.4 L1371.3 577.5 L1376.3 577.9 L1381.3 578.4 L1386.3 579.2 L1391.3 580.1 L1396.3 581.2 L1401.3 582.5 L1406.3 583.9 L1411.3 585.5 L1416.3 587.1 L1421.2 588.9 L1426.2 590.7 L1431.2 592.6 L1436.2 594.5 L1441.2 596.5 L1446.2 598.5 L1451.2 600.5 L1456.2 602.6 L1461.2 604.6 L1466.2 606.6 L1471.2 608.7 L1476.2 610.7 L1481.2 612.6 L1486.2 614.5 L1491.2 616.4 L1496.2 618.3 L1501.2 620.2 L1506.2 622.0 L1511.2 623.8 L1516.2 625.6 L1521.1 627.4 L1526.1 629.1 L1531.1 630.9 L1536.1 632.7 L1541.1 634.5 L1546.1 636.2 L1551.1 638.0 L1556.1 639.8 L1561.1 641.5 L1566.1 643.3 L1571.1 645.0 L1576.1 646.7 L1581.1 648.3 L1586.1 649.9 L1591.1 651.5 L1596.1 653.0 L1601.1 654.5 L1606.1 655.9 L1611.1 657.2 L1616.1 658.5 L1621.0 659.7 L1626.0 660.9 L1631.0 661.9 L1636.0 662.9 L1641.0 663.8 L1646.0 664.6 L1651.0 665.3 L1656.0 666.0 L1661.0 666.5 L1666.0 667.0 L1671.0 667.5 L1676.0 667.8 L1681.0 668.0 L1686.0 668.2 L1691.0 668.3 L1696.0 668.4 L1701.0 668.3 L1706.0 668.2 L1711.0 668.0 L1716.0 667.8 L1720.9 667.4 L1725.9 667.0 L1730.9 666.5 L1735.9 666.0 L1740.9 665.3 L1745.9 664.6 L1750.9 663.9 L1755.9 663.0 L1760.9 662.1 L1765.9 661.2 L1770.9 660.2 L1775.9 659.1 L1780.9 658.0 L1785.9 656.9 L1790.9 655.7 L1795.9 654.4 L1800.9 653.2 L1805.9 651.9 L1810.9 650.6 L1815.9 649.3 L1820.8 647.9 L1825.8 646.5 L1830.8 645.2 L1835.8 643.8 L1840.8 642.4 L1845.8 641.0 L1850.8 639.6 L1855.8 638.2 L1860.8 636.8 L1865.8 635.4 L1870.8 633.9 L1875.8 632.4 L1880.8 630.9 L1885.8 629.4 L1890.8 627.9 L1895.8 626.3 L1900.8 624.7 L1905.8 623.1 L1910.8 621.5 L1915.8 620.0 L1920.7 618.6 L1925.7 617.2 L1930.7 616.0 L1935.7 614.9 L1940.7 614.0 L1945.7 613.3 L1950.7 612.8 L1955.7 612.5 L1960.7 612.5 L1965.7 612.6 L1970.7 612.9 L1975.7 613.3 L1980.7 613.7 L1985.7 614.1 L1990.7 614.5 L1995.7 614.7 L2000.7 614.8 L2005.7 614.8 L2010.7 614.4 L2015.7 613.8 L2020.6 612.9 L2025.6 611.8 L2030.6 610.6 L2035.6 609.3 L2040.6 607.9 L2045.6 606.6 L2050.6 605.3 L2055.6 604.2 L2060.6 603.1 L2065.6 602.0 L2070.6 601.0 L2075.6 600.1 L2080.6 599.3 L2085.6 598.5 L2090.6 597.8 L2095.6 597.1 L2100.6 596.5 L2105.6 596.0 L2110.6 595.5 L2115.6 595.1 L2120.5 594.8 L2125.5 594.5 L2130.5 594.3 L2135.5 594.1 L2140.5 594.0 L2145.5 594.0 L2150.5 594.0 L2155.5 594.1 L2160.5 594.2 L2165.5 594.4 L2170.5 594.7 L2175.5 595.0 L2180.5 595.4 L2185.5 595.9 L2190.5 596.4 L2195.5 596.9 L2200.5 597.5 L2205.5 598.2 L2210.5 599.0 L2215.5 599.7 L2220.4 600.6 L2225.4 601.5 L2230.4 602.4 L2235.4 603.5 L2240.4 604.5 L2245.4 605.6 L2250.4 606.8 L2255.4 608.1 L2260.4 609.3 L2265.4 610.7 L2270.4 612.0 L2275.4 613.4 L2280.4 614.9 L2285.4 616.4 L2290.4 617.9 L2295.4 619.4 L2300.4 620.9 L2305.4 622.5 L2310.4 624.0 L2315.4 625.6 L2320.3 627.1 L2325.3 628.7 L2330.3 630.2 L2335.3 631.8 L2340.3 633.3 L2345.3 634.8 L2350.3 636.3 L2355.3 637.7 L2360.3 639.1 L2365.3 640.5 L2370.3 641.8 L2375.3 643.1 L2380.3 644.3 L2385.3 645.6 L2390.3 646.8 L2395.3 647.9 L2400.3 649.1 L2405.3 650.3 L2410.3 651.4 L2415.3 652.6 L2420.2 653.8 L2425.2 655.0 L2430.2 656.3 L2435.2 657.6 L2440.2 659.0 L2445.2 660.5 L2450.2 662.1 L2455.2 664.0 L2460.2 666.1 L2465.2 668.5 L2470.2 671.1 L2475.2 673.9 L2480.2 676.8 L2485.2 679.8 L2490.2 682.9 L2495.2 685.9 L2500.2 689.0 L2505.2 692.0 L2510.2 694.9 L2515.2 697.6 L2520.1 700.1 L2525.1 702.4 L2530.1 704.5 L2535.1 706.5 L2540.1 708.1 L2545.1 709.6 L2550.1 710.9 L2555.1 712.0 L2560.1 712.9 L2565.1 713.6 L2570.1 714.2 L2575.1 714.5 L2580.1 714.7 L2585.1 714.6 L2590.1 714.5 L2595.1 714.1 L2600.1 713.7 L2605.1 713.1 L2610.1 712.4 L2615.1 711.6 L2620.0 710.7 L2625.0 709.7 L2630.0 708.7 L2635.0 707.6 L2640.0 706.4 L2645.0 705.3 L2650.0 704.0 L2655.0 702.6 L2660.0 701.0 L2665.0 699.3" fill="none" stroke="#000" stroke-width="1.6"/>
<g clip-path="url(#c15)"><path d="M1001.7 605.6 L1006.7 604.4 L1011.7 603.0 L1016.7 601.5 L1021.6 599.9 L1026.6 598.2 L1031.6 596.4 L1036.6 594.4 L1041.6 592.4 L1046.6 590.3 L1051.6 588.2 L1056.6 586.0 L1061.6 583.7 L1066.6 581.4 L1071.6 579.1 L1076.6 576.7 L1081.6 574.4 L1086.6 572.0 L1091.6 569.7 L1096.6 567.4 L1101.6 565.1 L1106.6 562.9 L1111.6 560.7 L1116.6 558.6 L1121.5 556.6 L1126.5 554.6 L1131.5 552.7 L1136.5 550.9 L1141.5 549.2 L1146.5 547.4 L1151.5 545.8 L1156.5 544.1 L1161.5 542.5 L1166.5 540.8 L1171.5 539.2 L1176.5 537.6 L1181.5 535.9 L1186.5 534.2 L1191.5 532.5 L1196.5 530.7 L1201.5 528.8 L1206.5 526.9 L1211.5 524.9 L1216.5 522.9 L1221.4 520.7 L1226.4 518.5 L1231.4 516.3 L1236.4 514.0 L1241.4 511.6 L1246.4 509.2 L1251.4 506.7 L1256.4 504.3 L1261.4 501.8 L1266.4 499.3 L1271.4 496.8 L1276.4 494.3 L1281.4 491.8 L1286.4 489.3 L1291.4 486.8 L1296.4 484.4 L1301.4 482.0 L1306.4 479.6 L1311.4 477.3 L1316.4 475.0 L1321.3 472.8 L1326.3 470.6 L1331.3 468.5 L1336.3 466.6 L1341.3 464.7 L1346.3 462.9 L1351.3 461.2 L1356.3 459.6 L1361.3 458.2 L1366.3 457.0 L1371.3 455.9 L1376.3 455.0 L1381.3 454.3 L1386.3 453.8 L1391.3 453.5 L1396.3 453.4 L1401.3 453.5 L1406.3 453.7 L1411.3 454.0 L1416.3 454.4 L1421.2 454.8 L1426.2 455.3 L1431.2 455.8 L1436.2 456.3 L1441.2 456.9 L1446.2 457.5 L1451.2 458.1 L1456.2 458.8 L1461.2 459.5 L1466.2 460.1 L1471.2 460.8 L1476.2 461.6 L1481.2 462.3 L1486.2 463.0 L1491.2 463.8 L1496.2 464.6 L1501.2 465.3 L1506.2 466.1 L1511.2 466.9 L1516.2 467.6 L1521.1 468.4 L1526.1 469.2 L1531.1 469.9 L1536.1 470.7 L1541.1 471.4 L1546.1 472.1 L1551.1 472.8 L1556.1 473.5 L1561.1 474.2 L1566.1 474.8 L1571.1 475.4 L1576.1 476.0 L1581.1 476.6 L1586.1 477.1 L1591.1 477.6 L1596.1 478.1 L1601.1 478.6 L1606.1 478.9 L1611.1 479.3 L1616.1 479.5 L1621.0 479.7 L1626.0 479.7 L1631.0 479.7 L1636.0 479.5 L1641.0 479.2 L1646.0 478.7 L1651.0 478.1 L1656.0 477.3 L1661.0 476.3 L1666.0 475.1 L1671.0 473.8 L1676.0 472.3 L1681.0 470.8 L1686.0 469.1 L1691.0 467.4 L1696.0 465.6 L1701.0 463.8 L1706.0 461.9 L1711.0 460.0 L1716.0 458.0 L1720.9 455.9 L1725.9 453.8 L1730.9 451.7 L1735.9 449.5 L1740.9 447.3 L1745.9 445.0 L1750.9 442.8 L1755.9 440.4 L1760.9 438.1 L1765.9 435.7 L1770.9 433.4 L1775.9 431.0 L1780.9 428.6 L1785.9 426.1 L1790.9 423.7 L1795.9 421.3 L1800.9 418.9 L1805.9 416.4 L1810.9 414.0 L1815.9 411.6 L1820.8 409.2 L1825.8 406.8 L1830.8 404.5 L1835.8 402.3 L1840.8 400.1 L1845.8 398.0 L1850.8 396.0 L1855.8 394.1 L1860.8 392.3 L1865.8 390.6 L1870.8 389.1 L1875.8 387.6 L1880.8 386.0 L1885.8 384.4 L1890.8 382.7 L1895.8 380.7 L1900.8 378.6 L1905.8 376.3 L1910.8 373.9 L1915.8 371.4 L1920.7 368.9 L1925.7 366.5 L1930.7 364.2 L1935.7 362.1 L1940.7 360.1 L1945.7 358.4 L1950.7 357.1 L1955.7 356.1 L1960.7 355.4 L1965.7 355.1 L1970.7 355.0 L1975.7 355.1 L1980.7 355.3 L1985.7 355.6 L1990.7 355.9 L1995.7 356.2 L2000.7 356.3 L2005.7 356.3 L2010.7 356.0 L2015.7 355.5 L2020.6 354.6 L2025.6 353.6 L2030.6 352.3 L2035.6 350.8 L2040.6 349.2 L2045.6 347.5 L2050.6 345.8 L2055.6 344.1 L2060.6 342.3 L2065.6 340.7 L2070.6 339.1 L2075.6 337.7 L2080.6 336.4 L2085.6 335.2 L2090.6 334.1 L2095.6 333.0 L2100.6 332.1 L2105.6 331.2 L2110.6 330.4 L2115.6 329.7 L2120.5 329.0 L2125.5 328.4 L2130.5 327.9 L2135.5 327.5 L2140.5 327.1 L2145.5 326.8 L2150.5 326.6 L2155.5 326.5 L2160.5 326.4 L2165.5 326.4 L2170.5 326.5 L2175.5 326.7 L2180.5 327.0 L2185.5 327.3 L2190.5 327.7 L2195.5 328.2 L2200.5 328.8 L2205.5 329.4 L2210.5 330.1 L2215.5 330.9 L2220.4 331.8 L2225.4 332.8 L2230.4 333.8 L2235.4 335.0 L2240.4 336.1 L2245.4 337.4 L2250.4 338.7 L2255.4 340.0 L2260.4 341.3 L2265.4 342.7 L2270.4 344.1 L2275.4 345.6 L2280.4 347.0 L2285.4 348.5 L2290.4 349.9 L2295.4 351.4 L2300.4 352.8 L2305.4 354.2 L2310.4 355.6 L2315.4 356.9 L2320.3 358.2 L2325.3 359.5 L2330.3 360.8 L2335.3 362.0 L2340.3 363.3 L2345.3 364.5 L2350.3 365.7 L2355.3 366.9 L2360.3 368.0 L2365.3 369.2 L2370.3 370.4 L2375.3 371.6 L2380.3 372.8 L2385.3 374.0 L2390.3 375.2 L2395.3 376.5 L2400.3 377.8 L2405.3 379.0 L2410.3 380.4 L2415.3 381.7 L2420.2 383.1 L2425.2 384.5 L2430.2 386.0 L2435.2 387.5 L2440.2 389.0 L2445.2 390.6 L2450.2 392.3 L2455.2 394.1 L2460.2 396.0 L2465.2 397.9 L2470.2 400.0 L2475.2 402.1 L2480.2 404.4 L2485.2 406.9 L2490.2 409.4 L2495.2 412.1 L2500.2 414.9 L2505.2 417.7 L2510.2 420.4 L2515.2 423.0 L2520.1 425.5 L2525.1 427.8 L2530.1 429.9 L2535.1 431.8 L2540.1 433.5 L2545.1 434.9 L2550.1 436.2 L2555.1 437.2 L2560.1 437.9 L2565.1 438.4 L2570.1 438.7 L2575.1 438.8 L2580.1 438.5 L2585.1 438.0 L2590.1 437.3 L2595.1 436.4 L2600.1 435.3 L2605.1 434.1 L2610.1 432.7 L2615.1 431.2 L2620.0 429.6 L2625.0 428.0 L2630.0 426.4 L2635.0 424.7 L2640.0 423.1 L2645.0 421.5 L2650.0 419.9 L2655.0 418.5 L2660.0 417.1 L2665.0 415.9" fill="none" stroke="#0000ff" stroke-width="4"/></g>
<g clip-path="url(#c85)"><path d="M1001.7 623.5 L1006.7 624.2 L1011.7 624.8 L1016.7 625.2 L1021.6 625.5 L1026.6 625.6 L1031.6 625.7 L1036.6 625.7 L1041.6 625.5 L1046.6 625.3 L1051.6 625.0 L1056.6 624.7 L1061.6 624.3 L1066.6 623.9 L1071.6 623.4 L1076.6 623.0 L1081.6 622.5 L1086.6 622.1 L1091.6 621.7 L1096.6 621.3 L1101.6 620.9 L1106.6 620.7 L1111.6 620.4 L1116.6 620.3 L1121.5 620.2 L1126.5 620.3 L1131.5 620.4 L1136.5 620.6 L1141.5 620.9 L1146.5 621.2 L1151.5 621.5 L1156.5 621.9 L1161.5 622.3 L1166.5 622.7 L1171.5 623.1 L1176.5 623.5 L1181.5 623.8 L1186.5 624.2 L1191.5 624.4 L1196.5 624.6 L1201.5 624.8 L1206.5 624.8 L1211.5 624.8 L1216.5 624.6 L1221.4 624.4 L1226.4 624.0 L1231.4 623.6 L1236.4 623.1 L1241.4 622.5 L1246.4 621.8 L1251.4 621.1 L1256.4 620.3 L1261.4 619.4 L1266.4 618.5 L1271.4 617.5 L1276.4 616.4 L1281.4 615.4 L1286.4 614.3 L1291.4 613.1 L1296.4 612.0 L1301.4 610.9 L1306.4 609.8 L1311.4 608.7 L1316.4 607.6 L1321.3 606.6 L1326.3 605.7 L1331.3 604.9 L1336.3 604.1 L1341.3 603.4 L1346.3 602.8 L1351.3 602.4 L1356.3 602.1 L1361.3 601.9 L1366.3 601.9 L1371.3 602.1 L1376.3 602.4 L1381.3 602.9 L1386.3 603.7 L1391.3 604.7 L1396.3 605.8 L1401.3 607.2 L1406.3 608.7 L1411.3 610.3 L1416.3 611.9 L1421.2 613.6 L1426.2 615.4 L1431.2 617.2 L1436.2 619.0 L1441.2 620.8 L1446.2 622.6 L1451.2 624.5 L1456.2 626.4 L1461.2 628.3 L1466.2 630.2 L1471.2 632.1 L1476.2 634.0 L1481.2 635.9 L1486.2 637.8 L1491.2 639.7 L1496.2 641.6 L1501.2 643.5 L1506.2 645.4 L1511.2 647.2 L1516.2 649.1 L1521.1 650.9 L1526.1 652.7 L1531.1 654.5 L1536.1 656.2 L1541.1 657.9 L1546.1 659.6 L1551.1 661.2 L1556.1 662.8 L1561.1 664.4 L1566.1 665.9 L1571.1 667.4 L1576.1 668.8 L1581.1 670.2 L1586.1 671.5 L1591.1 672.7 L1596.1 673.9 L1601.1 675.0 L1606.1 676.1 L1611.1 677.1 L1616.1 678.0 L1621.0 678.8 L1626.0 679.6 L1631.0 680.3 L1636.0 680.9 L1641.0 681.4 L1646.0 681.8 L1651.0 682.2 L1656.0 682.5 L1661.0 682.7 L1666.0 682.9 L1671.0 683.0 L1676.0 683.0 L1681.0 683.0 L1686.0 682.9 L1691.0 682.7 L1696.0 682.5 L1701.0 682.2 L1706.0 681.9 L1711.0 681.5 L1716.0 681.0 L1720.9 680.5 L1725.9 680.0 L1730.9 679.3 L1735.9 678.7 L1740.9 678.0 L1745.9 677.3 L1750.9 676.5 L1755.9 675.6 L1760.9 674.8 L1765.9 673.9 L1770.9 672.9 L1775.9 672.0 L1780.9 671.0 L1785.9 670.0 L1790.9 668.9 L1795.9 667.9 L1800.9 666.8 L1805.9 665.7 L1810.9 664.6 L1815.9 663.5 L1820.8 662.4 L1825.8 661.2 L1830.8 660.1 L1835.8 659.0 L1840.8 657.9 L1845.8 656.7 L1850.8 655.6 L1855.8 654.5 L1860.8 653.3 L1865.8 652.2 L1870.8 651.0 L1875.8 649.8 L1880.8 648.6 L1885.8 647.4 L1890.8 646.2 L1895.8 644.9 L1900.8 643.7 L1905.8 642.4 L1910.8 641.1 L1915.8 639.9 L1920.7 638.8 L1925.7 637.7 L1930.7 636.7 L1935.7 635.9 L1940.7 635.2 L1945.7 634.6 L1950.7 634.3 L1955.7 634.1 L1960.7 634.2 L1965.7 634.3 L1970.7 634.6 L1975.7 635.0 L1980.7 635.5 L1985.7 635.9 L1990.7 636.4 L1995.7 636.8 L2000.7 637.0 L2005.7 637.2 L2010.7 637.2 L2015.7 637.0 L2020.6 636.6 L2025.6 636.0 L2030.6 635.3 L2035.6 634.6 L2040.6 633.7 L2045.6 632.9 L2050.6 632.0 L2055.6 631.2 L2060.6 630.3 L2065.6 629.5 L2070.6 628.6 L2075.6 627.8 L2080.6 627.1 L2085.6 626.3 L2090.6 625.6 L2095.6 625.0 L2100.6 624.3 L2105.6 623.8 L2110.6 623.3 L2115.6 622.8 L2120.5 622.5 L2125.5 622.2 L2130.5 621.9 L2135.5 621.8 L2140.5 621.8 L2145.5 621.8 L2150.5 621.9 L2155.5 622.2 L2160.5 622.6 L2165.5 623.0 L2170.5 623.6 L2175.5 624.3 L2180.5 625.0 L2185.5 625.9 L2190.5 626.8 L2195.5 627.9 L2200.5 629.0 L2205.5 630.2 L2210.5 631.4 L2215.5 632.8 L2220.4 634.1 L2225.4 635.6 L2230.4 637.1 L2235.4 638.7 L2240.4 640.3 L2245.4 641.9 L2250.4 643.6 L2255.4 645.4 L2260.4 647.1 L2265.4 648.9 L2270.4 650.7 L2275.4 652.6 L2280.4 654.5 L2285.4 656.4 L2290.4 658.3 L2295.4 660.2 L2300.4 662.1 L2305.4 664.1 L2310.4 666.0 L2315.4 668.0 L2320.3 669.9 L2325.3 671.9 L2330.3 673.8 L2335.3 675.7 L2340.3 677.7 L2345.3 679.6 L2350.3 681.5 L2355.3 683.3 L2360.3 685.2 L2365.3 687.0 L2370.3 688.8 L2375.3 690.6 L2380.3 692.4 L2385.3 694.1 L2390.3 695.8 L2395.3 697.6 L2400.3 699.3 L2405.3 701.0 L2410.3 702.8 L2415.3 704.6 L2420.2 706.4 L2425.2 708.3 L2430.2 710.2 L2435.2 712.2 L2440.2 714.2 L2445.2 716.3 L2450.2 718.5 L2455.2 720.7 L2460.2 723.0 L2465.2 725.4 L2470.2 728.0 L2475.2 730.6 L2480.2 733.2 L2485.2 736.0 L2490.2 738.9 L2495.2 741.8 L2500.2 744.8 L2505.2 747.7 L2510.2 750.7 L2515.2 753.5 L2520.1 756.3 L2525.1 758.9 L2530.1 761.4 L2535.1 763.7 L2540.1 765.8 L2545.1 767.8 L2550.1 769.6 L2555.1 771.3 L2560.1 772.7 L2565.1 773.9 L2570.1 775.0 L2575.1 775.8 L2580.1 776.4 L2585.1 776.7 L2590.1 776.9 L2595.1 776.9 L2600.1 776.7 L2605.1 776.4 L2610.1 776.0 L2615.1 775.5 L2620.0 774.9 L2625.0 774.2 L2630.0 773.5 L2635.0 772.7 L2640.0 772.0 L2645.0 771.3 L2650.0 770.6 L2655.0 769.9 L2660.0 769.3 L2665.0 768.9" fill="none" stroke="#0000ff" stroke-width="4"/></g>
<text x="2112.5" y="260.3" font-size="41.85" fill="#000" text-anchor="middle">5%</text>
<text x="2112.5" y="345.8" font-size="41.85" fill="#0000ff" text-anchor="middle">15%</text>
<text x="2112.5" y="636.1" font-size="41.85" fill="#0000ff" text-anchor="middle">85%</text>
<text x="2112.5" y="694.3" font-size="41.85" fill="#000" text-anchor="middle">95%</text>
<line x1="1001.7" y1="65.0" x2="1001.7" y2="957.0" stroke="#000" stroke-width="4"/>
<g stroke="#262626" stroke-width="4" fill="none" shape-rendering="crispEdges">
<rect x="169.0" y="65.0" width="2498.0" height="892.0"/>
<line x1="585.3" y1="65.0" x2="585.3" y2="92.0"/>
<line x1="585.3" y1="957.0" x2="585.3" y2="930.0"/>
<line x1="1061.1" y1="65.0" x2="1061.1" y2="92.0"/>
<line x1="1061.1" y1="957.0" x2="1061.1" y2="930.0"/>
<line x1="1239.6" y1="65.0" x2="1239.6" y2="92.0"/>
<line x1="1239.6" y1="957.0" x2="1239.6" y2="930.0"/>
<line x1="1418.0" y1="65.0" x2="1418.0" y2="92.0"/>
<line x1="1418.0" y1="957.0" x2="1418.0" y2="930.0"/>
<line x1="1655.9" y1="65.0" x2="1655.9" y2="92.0"/>
<line x1="1655.9" y1="957.0" x2="1655.9" y2="930.0"/>
<line x1="1893.8" y1="65.0" x2="1893.8" y2="92.0"/>
<line x1="1893.8" y1="957.0" x2="1893.8" y2="930.0"/>
<line x1="2310.1" y1="65.0" x2="2310.1" y2="92.0"/>
<line x1="2310.1" y1="957.0" x2="2310.1" y2="930.0"/>
<line x1="169.0" y1="778.6" x2="196.0" y2="778.6"/>
<line x1="2667.0" y1="778.6" x2="2640.0" y2="778.6"/>
<line x1="169.0" y1="600.2" x2="196.0" y2="600.2"/>
<line x1="2667.0" y1="600.2" x2="2640.0" y2="600.2"/>
<line x1="169.0" y1="421.8" x2="196.0" y2="421.8"/>
<line x1="2667.0" y1="421.8" x2="2640.0" y2="421.8"/>
<line x1="169.0" y1="243.4" x2="196.0" y2="243.4"/>
<line x1="2667.0" y1="243.4" x2="2640.0" y2="243.4"/>
</g>
<text transform="translate(170.4,42.96) scale(1,1.04)" font-size="54.94" font-weight="bold" fill="#262626">LAC SAINT-PIERRE (#15975)</text>
<text x="656.12" y="102.2" font-size="41.9" font-weight="bold" fill="#000">Observations</text>
<text x="1068.38" y="102.2" font-size="41.9" font-weight="bold" fill="#000">Forecasts</text>
<g stroke="#000" stroke-width="3" fill="none">
<path d="M976.5 78.8 L961.6 91.4 L976.5 104"/><path d="M969.5 86.8 H995.2 M969.5 96 H995.2"/>
<path d="M1027.9 78.8 L1042.8 91.4 L1027.9 104"/><path d="M1009.2 86.8 H1034.9 M1009.2 96 H1034.9"/>
</g>
<text transform="translate(151.5,82.4) scale(1,1.04)" font-size="50.8" fill="#262626" text-anchor="end">2.0</text>
<text transform="translate(3472.3,82.4) scale(1,1.04)" font-size="50.8" fill="#262626">2.0</text>
<text transform="translate(151.5,260.8) scale(1,1.04)" font-size="50.8" fill="#262626" text-anchor="end">1.5</text>
<text transform="translate(3472.3,260.8) scale(1,1.04)" font-size="50.8" fill="#262626">1.5</text>
<text transform="translate(151.5,439.2) scale(1,1.04)" font-size="50.8" fill="#262626" text-anchor="end">1.0</text>
<text transform="translate(3472.3,439.2) scale(1,1.04)" font-size="50.8" fill="#262626">1.0</text>
<text transform="translate(151.5,617.6) scale(1,1.04)" font-size="50.8" fill="#262626" text-anchor="end">0.5</text>
<text transform="translate(3472.3,617.6) scale(1,1.04)" font-size="50.8" fill="#262626">0.5</text>
<text transform="translate(151.5,796.0) scale(1,1.04)" font-size="50.8" fill="#262626" text-anchor="end">0.0</text>
<text transform="translate(3472.3,796.0) scale(1,1.04)" font-size="50.8" fill="#262626">0.0</text>
<text transform="translate(151.5,974.4) scale(1,1.04)" font-size="50.8" fill="#262626" text-anchor="end">-0.5</text>
<text transform="translate(3472.3,974.4) scale(1,1.04)" font-size="50.8" fill="#262626">-0.5</text>
<text x="169.0" y="1012" font-size="41.85" fill="#262626" text-anchor="middle">02 Feb.</text>
<text x="585.3" y="1012" font-size="41.85" fill="#262626" text-anchor="middle">09 Feb.</text>
<text x="1061.1" y="1012" font-size="41.85" fill="#262626" text-anchor="middle">17 Feb.</text>
<text x="1239.6" y="1012" font-size="41.85" fill="#262626" text-anchor="middle">20 Feb.</text>
<text x="1418.0" y="1012" font-size="41.85" fill="#262626" text-anchor="middle">23 Feb.</text>
<text x="1655.9" y="1012" font-size="41.85" fill="#262626" text-anchor="middle">27 Feb.</text>
<text x="1893.8" y="1012" font-size="41.85" fill="#262626" text-anchor="middle">03 Mar.</text>
<text x="2310.1" y="1012" font-size="41.85" fill="#262626" text-anchor="middle">10 Mar.</text>
<text transform="translate(40.7,810.2) rotate(-90) scale(1,1.04)" font-size="49.93" font-weight="bold" fill="#262626">Water level [m above CD]</text>
<rect x="2686.0" y="65.0" width="112.0" height="892.0" fill="#b3f9fc"/>
<rect x="2719.4" y="511.9" width="45.2" height="137.1" fill="#ebebeb"/>
<path d="M2719.4 649.0 V511.9 H2764.6 V649.0 Z" fill="none" stroke="#000" stroke-width="2.2" stroke-dasharray="9 7"/>
<rect x="2731.5" y="601.4" width="21" height="20.8" fill="#000"/>
<path d="M2725.9 527.9 L2758.1 527.9 L2742.0 555.6 Z" fill="#0000ff"/>
<path d="M2725.9 634.0 L2758.1 634.0 L2742.0 606.3 Z" fill="#0000ff"/>
<g stroke="#262626" stroke-opacity="0.15" stroke-width="4" fill="none" shape-rendering="crispEdges">
<line x1="2688.0" y1="921.3" x2="2796.0" y2="921.3" stroke-dasharray="5 3"/>
<line x1="2688.0" y1="885.6" x2="2796.0" y2="885.6" stroke-dasharray="5 3"/>
<line x1="2688.0" y1="850.0" x2="2796.0" y2="850.0" stroke-dasharray="5 3"/>
<line x1="2688.0" y1="814.3" x2="2796.0" y2="814.3" stroke-dasharray="5 3"/>
<line x1="2688.0" y1="778.6" x2="2796.0" y2="778.6" stroke-opacity="0.36"/>
<line x1="2688.0" y1="742.9" x2="2796.0" y2="742.9" stroke-dasharray="5 3"/>
<line x1="2688.0" y1="707.2" x2="2796.0" y2="707.2" stroke-dasharray="5 3"/>
<line x1="2688.0" y1="671.6" x2="2796.0" y2="671.6" stroke-dasharray="5 3"/>
<line x1="2688.0" y1="635.9" x2="2796.0" y2="635.9" stroke-dasharray="5 3"/>
<line x1="2688.0" y1="600.2" x2="2796.0" y2="600.2" stroke-opacity="0.36"/>
<line x1="2688.0" y1="564.5" x2="2796.0" y2="564.5" stroke-dasharray="5 3"/>
<line x1="2688.0" y1="528.8" x2="2796.0" y2="528.8" stroke-dasharray="5 3"/>
<line x1="2688.0" y1="493.2" x2="2796.0" y2="493.2" stroke-dasharray="5 3"/>
<line x1="2688.0" y1="457.5" x2="2796.0" y2="457.5" stroke-dasharray="5 3"/>
<line x1="2688.0" y1="421.8" x2="2796.0" y2="421.8" stroke-opacity="0.36"/>
<line x1="2688.0" y1="386.1" x2="2796.0" y2="386.1" stroke-dasharray="5 3"/>
<line x1="2688.0" y1="350.4" x2="2796.0" y2="350.4" stroke-dasharray="5 3"/>
<line x1="2688.0" y1="314.8" x2="2796.0" y2="314.8" stroke-dasharray="5 3"/>
<line x1="2688.0" y1="279.1" x2="2796.0" y2="279.1" stroke-dasharray="5 3"/>
<line x1="2688.0" y1="243.4" x2="2796.0" y2="243.4" stroke-opacity="0.36"/>
<line x1="2688.0" y1="207.7" x2="2796.0" y2="207.7" stroke-dasharray="5 3"/>
<line x1="2688.0" y1="172.0" x2="2796.0" y2="172.0" stroke-dasharray="5 3"/>
<line x1="2688.0" y1="136.4" x2="2796.0" y2="136.4" stroke-dasharray="5 3"/>
<line x1="2688.0" y1="100.7" x2="2796.0" y2="100.7" stroke-dasharray="5 3"/>
</g>
<g stroke="#262626" stroke-width="4" fill="none" shape-rendering="crispEdges">
<rect x="2686.0" y="65.0" width="112.0" height="892.0"/>
<line x1="2742.0" y1="65.0" x2="2742.0" y2="76.0"/>
<line x1="2742.0" y1="957.0" x2="2742.0" y2="946.0"/>
<line x1="2686.0" y1="778.6" x2="2697.0" y2="778.6"/>
<line x1="2798.0" y1="778.6" x2="2787.0" y2="778.6"/>
<line x1="2686.0" y1="600.2" x2="2697.0" y2="600.2"/>
<line x1="2798.0" y1="600.2" x2="2787.0" y2="600.2"/>
<line x1="2686.0" y1="421.8" x2="2697.0" y2="421.8"/>
<line x1="2798.0" y1="421.8" x2="2787.0" y2="421.8"/>
<line x1="2686.0" y1="243.4" x2="2697.0" y2="243.4"/>
<line x1="2798.0" y1="243.4" x2="2787.0" y2="243.4"/>
</g>
<text x="2682.30" y="1002.1" font-size="33.4" fill="#262626">17</text>
<text x="2735.21" y="1002.1" font-size="33.4" fill="#262626">Feb.</text>
<text x="2682.30" y="1050.1" font-size="33.4" fill="#262626">19</text>
<text x="2735.21" y="1050.1" font-size="33.4" fill="#262626">Feb.</text>
<rect x="2850.9" y="413.8" width="45.2" height="239.8" fill="#ebebeb"/>
<path d="M2850.9 653.6 V413.8 H2896.1 V653.6 Z" fill="none" stroke="#000" stroke-width="2.2" stroke-dasharray="9 7"/>
<rect x="2863.0" y="588.0" width="21" height="20.8" fill="#000"/>
<path d="M2857.4 450.2 L2889.6 450.2 L2873.5 477.9 Z" fill="#0000ff"/>
<path d="M2857.4 631.1 L2889.6 631.1 L2873.5 603.4 Z" fill="#0000ff"/>
<g stroke="#262626" stroke-opacity="0.15" stroke-width="4" fill="none" shape-rendering="crispEdges">
<line x1="2819.0" y1="921.3" x2="2928.0" y2="921.3" stroke-dasharray="5 3"/>
<line x1="2819.0" y1="885.6" x2="2928.0" y2="885.6" stroke-dasharray="5 3"/>
<line x1="2819.0" y1="850.0" x2="2928.0" y2="850.0" stroke-dasharray="5 3"/>
<line x1="2819.0" y1="814.3" x2="2928.0" y2="814.3" stroke-dasharray="5 3"/>
<line x1="2819.0" y1="778.6" x2="2928.0" y2="778.6" stroke-opacity="0.36"/>
<line x1="2819.0" y1="742.9" x2="2928.0" y2="742.9" stroke-dasharray="5 3"/>
<line x1="2819.0" y1="707.2" x2="2928.0" y2="707.2" stroke-dasharray="5 3"/>
<line x1="2819.0" y1="671.6" x2="2928.0" y2="671.6" stroke-dasharray="5 3"/>
<line x1="2819.0" y1="635.9" x2="2928.0" y2="635.9" stroke-dasharray="5 3"/>
<line x1="2819.0" y1="600.2" x2="2928.0" y2="600.2" stroke-opacity="0.36"/>
<line x1="2819.0" y1="564.5" x2="2928.0" y2="564.5" stroke-dasharray="5 3"/>
<line x1="2819.0" y1="528.8" x2="2928.0" y2="528.8" stroke-dasharray="5 3"/>
<line x1="2819.0" y1="493.2" x2="2928.0" y2="493.2" stroke-dasharray="5 3"/>
<line x1="2819.0" y1="457.5" x2="2928.0" y2="457.5" stroke-dasharray="5 3"/>
<line x1="2819.0" y1="421.8" x2="2928.0" y2="421.8" stroke-opacity="0.36"/>
<line x1="2819.0" y1="386.1" x2="2928.0" y2="386.1" stroke-dasharray="5 3"/>
<line x1="2819.0" y1="350.4" x2="2928.0" y2="350.4" stroke-dasharray="5 3"/>
<line x1="2819.0" y1="314.8" x2="2928.0" y2="314.8" stroke-dasharray="5 3"/>
<line x1="2819.0" y1="279.1" x2="2928.0" y2="279.1" stroke-dasharray="5 3"/>
<line x1="2819.0" y1="243.4" x2="2928.0" y2="243.4" stroke-opacity="0.36"/>
<line x1="2819.0" y1="207.7" x2="2928.0" y2="207.7" stroke-dasharray="5 3"/>
<line x1="2819.0" y1="172.0" x2="2928.0" y2="172.0" stroke-dasharray="5 3"/>
<line x1="2819.0" y1="136.4" x2="2928.0" y2="136.4" stroke-dasharray="5 3"/>
<line x1="2819.0" y1="100.7" x2="2928.0" y2="100.7" stroke-dasharray="5 3"/>
</g>
<g stroke="#262626" stroke-width="4" fill="none" shape-rendering="crispEdges">
<rect x="2817.0" y="65.0" width="113.0" height="892.0"/>
<line x1="2873.5" y1="65.0" x2="2873.5" y2="76.0"/>
<line x1="2873.5" y1="957.0" x2="2873.5" y2="946.0"/>
<line x1="2817.0" y1="778.6" x2="2828.0" y2="778.6"/>
<line x1="2930.0" y1="778.6" x2="2919.0" y2="778.6"/>
<line x1="2817.0" y1="600.2" x2="2828.0" y2="600.2"/>
<line x1="2930.0" y1="600.2" x2="2919.0" y2="600.2"/>
<line x1="2817.0" y1="421.8" x2="2828.0" y2="421.8"/>
<line x1="2930.0" y1="421.8" x2="2919.0" y2="421.8"/>
<line x1="2817.0" y1="243.4" x2="2828.0" y2="243.4"/>
<line x1="2930.0" y1="243.4" x2="2919.0" y2="243.4"/>
</g>
<text x="2814.13" y="1002.1" font-size="33.4" fill="#262626">20</text>
<text x="2867.21" y="1002.1" font-size="33.4" fill="#262626">Feb.</text>
<text x="2814.13" y="1050.1" font-size="33.4" fill="#262626">22</text>
<text x="2867.21" y="1050.1" font-size="33.4" fill="#262626">Feb.</text>
<rect x="2948.0" y="65.0" width="113.0" height="892.0" fill="#b3f9fc"/>
<rect x="2981.9" y="405.4" width="45.2" height="325.3" fill="#ebebeb"/>
<path d="M2981.9 730.7 V405.4 H3027.1 V730.7 Z" fill="none" stroke="#000" stroke-width="2.2" stroke-dasharray="9 7"/>
<rect x="2994.0" y="642.2" width="21" height="20.8" fill="#000"/>
<path d="M2988.4 446.2 L3020.6 446.2 L3004.5 473.9 Z" fill="#0000ff"/>
<path d="M2988.4 683.9 L3020.6 683.9 L3004.5 656.2 Z" fill="#0000ff"/>
<g stroke="#262626" stroke-opacity="0.15" stroke-width="4" fill="none" shape-rendering="crispEdges">
<line x1="2950.0" y1="921.3" x2="3059.0" y2="921.3" stroke-dasharray="5 3"/>
<line x1="2950.0" y1="885.6" x2="3059.0" y2="885.6" stroke-dasharray="5 3"/>
<line x1="2950.0" y1="850.0" x2="3059.0" y2="850.0" stroke-dasharray="5 3"/>
<line x1="2950.0" y1="814.3" x2="3059.0" y2="814.3" stroke-dasharray="5 3"/>
<line x1="2950.0" y1="778.6" x2="3059.0" y2="778.6" stroke-opacity="0.36"/>
<line x1="2950.0" y1="742.9" x2="3059.0" y2="742.9" stroke-dasharray="5 3"/>
<line x1="2950.0" y1="707.2" x2="3059.0" y2="707.2" stroke-dasharray="5 3"/>
<line x1="2950.0" y1="671.6" x2="3059.0" y2="671.6" stroke-dasharray="5 3"/>
<line x1="2950.0" y1="635.9" x2="3059.0" y2="635.9" stroke-dasharray="5 3"/>
<line x1="2950.0" y1="600.2" x2="3059.0" y2="600.2" stroke-opacity="0.36"/>
<line x1="2950.0" y1="564.5" x2="3059.0" y2="564.5" stroke-dasharray="5 3"/>
<line x1="2950.0" y1="528.8" x2="3059.0" y2="528.8" stroke-dasharray="5 3"/>
<line x1="2950.0" y1="493.2" x2="3059.0" y2="493.2" stroke-dasharray="5 3"/>
<line x1="2950.0" y1="457.5" x2="3059.0" y2="457.5" stroke-dasharray="5 3"/>
<line x1="2950.0" y1="421.8" x2="3059.0" y2="421.8" stroke-opacity="0.36"/>
<line x1="2950.0" y1="386.1" x2="3059.0" y2="386.1" stroke-dasharray="5 3"/>
<line x1="2950.0" y1="350.4" x2="3059.0" y2="350.4" stroke-dasharray="5 3"/>
<line x1="2950.0" y1="314.8" x2="3059.0" y2="314.8" stroke-dasharray="5 3"/>
<line x1="2950.0" y1="279.1" x2="3059.0" y2="279.1" stroke-dasharray="5 3"/>
<line x1="2950.0" y1="243.4" x2="3059.0" y2="243.4" stroke-opacity="0.36"/>
<line x1="2950.0" y1="207.7" x2="3059.0" y2="207.7" stroke-dasharray="5 3"/>
<line x1="2950.0" y1="172.0" x2="3059.0" y2="172.0" stroke-dasharray="5 3"/>
<line x1="2950.0" y1="136.4" x2="3059.0" y2="136.4" stroke-dasharray="5 3"/>
<line x1="2950.0" y1="100.7" x2="3059.0" y2="100.7" stroke-dasharray="5 3"/>
</g>
<g stroke="#262626" stroke-width="4" fill="none" shape-rendering="crispEdges">
<rect x="2948.0" y="65.0" width="113.0" height="892.0"/>
<line x1="3004.5" y1="65.0" x2="3004.5" y2="76.0"/>
<line x1="3004.5" y1="957.0" x2="3004.5" y2="946.0"/>
<line x1="2948.0" y1="778.6" x2="2959.0" y2="778.6"/>
<line x1="3061.0" y1="778.6" x2="3050.0" y2="778.6"/>
<line x1="2948.0" y1="600.2" x2="2959.0" y2="600.2"/>
<line x1="3061.0" y1="600.2" x2="3050.0" y2="600.2"/>
<line x1="2948.0" y1="421.8" x2="2959.0" y2="421.8"/>
<line x1="3061.0" y1="421.8" x2="3050.0" y2="421.8"/>
<line x1="2948.0" y1="243.4" x2="2959.0" y2="243.4"/>
<line x1="3061.0" y1="243.4" x2="3050.0" y2="243.4"/>
</g>
<text x="2945.13" y="1002.1" font-size="33.4" fill="#262626">23</text>
<text x="2998.21" y="1002.1" font-size="33.4" fill="#262626">Feb.</text>
<text x="2945.13" y="1050.1" font-size="33.4" fill="#262626">26</text>
<text x="2998.21" y="1050.1" font-size="33.4" fill="#262626">Feb.</text>
<rect x="3113.4" y="338.4" width="45.2" height="400.3" fill="#ebebeb"/>
<path d="M3113.4 738.7 V338.4 H3158.6 V738.7 Z" fill="none" stroke="#000" stroke-width="2.2" stroke-dasharray="9 7"/>
<rect x="3125.5" y="658.0" width="21" height="20.8" fill="#000"/>
<path d="M3119.9 393.1 L3152.1 393.1 L3136.0 420.8 Z" fill="#0000ff"/>
<path d="M3119.9 692.8 L3152.1 692.8 L3136.0 665.1 Z" fill="#0000ff"/>
<g stroke="#262626" stroke-opacity="0.15" stroke-width="4" fill="none" shape-rendering="crispEdges">
<line x1="3082.0" y1="921.3" x2="3190.0" y2="921.3" stroke-dasharray="5 3"/>
<line x1="3082.0" y1="885.6" x2="3190.0" y2="885.6" stroke-dasharray="5 3"/>
<line x1="3082.0" y1="850.0" x2="3190.0" y2="850.0" stroke-dasharray="5 3"/>
<line x1="3082.0" y1="814.3" x2="3190.0" y2="814.3" stroke-dasharray="5 3"/>
<line x1="3082.0" y1="778.6" x2="3190.0" y2="778.6" stroke-opacity="0.36"/>
<line x1="3082.0" y1="742.9" x2="3190.0" y2="742.9" stroke-dasharray="5 3"/>
<line x1="3082.0" y1="707.2" x2="3190.0" y2="707.2" stroke-dasharray="5 3"/>
<line x1="3082.0" y1="671.6" x2="3190.0" y2="671.6" stroke-dasharray="5 3"/>
<line x1="3082.0" y1="635.9" x2="3190.0" y2="635.9" stroke-dasharray="5 3"/>
<line x1="3082.0" y1="600.2" x2="3190.0" y2="600.2" stroke-opacity="0.36"/>
<line x1="3082.0" y1="564.5" x2="3190.0" y2="564.5" stroke-dasharray="5 3"/>
<line x1="3082.0" y1="528.8" x2="3190.0" y2="528.8" stroke-dasharray="5 3"/>
<line x1="3082.0" y1="493.2" x2="3190.0" y2="493.2" stroke-dasharray="5 3"/>
<line x1="3082.0" y1="457.5" x2="3190.0" y2="457.5" stroke-dasharray="5 3"/>
<line x1="3082.0" y1="421.8" x2="3190.0" y2="421.8" stroke-opacity="0.36"/>
<line x1="3082.0" y1="386.1" x2="3190.0" y2="386.1" stroke-dasharray="5 3"/>
<line x1="3082.0" y1="350.4" x2="3190.0" y2="350.4" stroke-dasharray="5 3"/>
<line x1="3082.0" y1="314.8" x2="3190.0" y2="314.8" stroke-dasharray="5 3"/>
<line x1="3082.0" y1="279.1" x2="3190.0" y2="279.1" stroke-dasharray="5 3"/>
<line x1="3082.0" y1="243.4" x2="3190.0" y2="243.4" stroke-opacity="0.36"/>
<line x1="3082.0" y1="207.7" x2="3190.0" y2="207.7" stroke-dasharray="5 3"/>
<line x1="3082.0" y1="172.0" x2="3190.0" y2="172.0" stroke-dasharray="5 3"/>
<line x1="3082.0" y1="136.4" x2="3190.0" y2="136.4" stroke-dasharray="5 3"/>
<line x1="3082.0" y1="100.7" x2="3190.0" y2="100.7" stroke-dasharray="5 3"/>
</g>
<g stroke="#262626" stroke-width="4" fill="none" shape-rendering="crispEdges">
<rect x="3080.0" y="65.0" width="112.0" height="892.0"/>
<line x1="3136.0" y1="65.0" x2="3136.0" y2="76.0"/>
<line x1="3136.0" y1="957.0" x2="3136.0" y2="946.0"/>
<line x1="3080.0" y1="778.6" x2="3091.0" y2="778.6"/>
<line x1="3192.0" y1="778.6" x2="3181.0" y2="778.6"/>
<line x1="3080.0" y1="600.2" x2="3091.0" y2="600.2"/>
<line x1="3192.0" y1="600.2" x2="3181.0" y2="600.2"/>
<line x1="3080.0" y1="421.8" x2="3091.0" y2="421.8"/>
<line x1="3192.0" y1="421.8" x2="3181.0" y2="421.8"/>
<line x1="3080.0" y1="243.4" x2="3091.0" y2="243.4"/>
<line x1="3192.0" y1="243.4" x2="3181.0" y2="243.4"/>
</g>
<text x="3077.13" y="1002.1" font-size="33.4" fill="#262626">27</text>
<text x="3129.21" y="1002.1" font-size="33.4" fill="#262626">Feb.</text>
<text x="3077.46" y="1050.1" font-size="33.4" fill="#262626">02</text>
<text x="3131.04" y="1050.1" font-size="33.4" fill="#262626">Mar.</text>
<rect x="3211.0" y="65.0" width="112.0" height="892.0" fill="#b3f9fc"/>
<rect x="3244.4" y="238.7" width="45.2" height="463.7" fill="#ebebeb"/>
<path d="M3244.4 702.4 V238.7 H3289.6 V702.4 Z" fill="none" stroke="#000" stroke-width="2.2" stroke-dasharray="9 7"/>
<rect x="3256.5" y="619.2" width="21" height="20.8" fill="#000"/>
<path d="M3250.9 319.2 L3283.1 319.2 L3267.0 346.9 Z" fill="#0000ff"/>
<path d="M3250.9 655.7 L3283.1 655.7 L3267.0 628.0 Z" fill="#0000ff"/>
<g stroke="#262626" stroke-opacity="0.15" stroke-width="4" fill="none" shape-rendering="crispEdges">
<line x1="3213.0" y1="921.3" x2="3321.0" y2="921.3" stroke-dasharray="5 3"/>
<line x1="3213.0" y1="885.6" x2="3321.0" y2="885.6" stroke-dasharray="5 3"/>
<line x1="3213.0" y1="850.0" x2="3321.0" y2="850.0" stroke-dasharray="5 3"/>
<line x1="3213.0" y1="814.3" x2="3321.0" y2="814.3" stroke-dasharray="5 3"/>
<line x1="3213.0" y1="778.6" x2="3321.0" y2="778.6" stroke-opacity="0.36"/>
<line x1="3213.0" y1="742.9" x2="3321.0" y2="742.9" stroke-dasharray="5 3"/>
<line x1="3213.0" y1="707.2" x2="3321.0" y2="707.2" stroke-dasharray="5 3"/>
<line x1="3213.0" y1="671.6" x2="3321.0" y2="671.6" stroke-dasharray="5 3"/>
<line x1="3213.0" y1="635.9" x2="3321.0" y2="635.9" stroke-dasharray="5 3"/>
<line x1="3213.0" y1="600.2" x2="3321.0" y2="600.2" stroke-opacity="0.36"/>
<line x1="3213.0" y1="564.5" x2="3321.0" y2="564.5" stroke-dasharray="5 3"/>
<line x1="3213.0" y1="528.8" x2="3321.0" y2="528.8" stroke-dasharray="5 3"/>
<line x1="3213.0" y1="493.2" x2="3321.0" y2="493.2" stroke-dasharray="5 3"/>
<line x1="3213.0" y1="457.5" x2="3321.0" y2="457.5" stroke-dasharray="5 3"/>
<line x1="3213.0" y1="421.8" x2="3321.0" y2="421.8" stroke-opacity="0.36"/>
<line x1="3213.0" y1="386.1" x2="3321.0" y2="386.1" stroke-dasharray="5 3"/>
<line x1="3213.0" y1="350.4" x2="3321.0" y2="350.4" stroke-dasharray="5 3"/>
<line x1="3213.0" y1="314.8" x2="3321.0" y2="314.8" stroke-dasharray="5 3"/>
<line x1="3213.0" y1="279.1" x2="3321.0" y2="279.1" stroke-dasharray="5 3"/>
<line x1="3213.0" y1="243.4" x2="3321.0" y2="243.4" stroke-opacity="0.36"/>
<line x1="3213.0" y1="207.7" x2="3321.0" y2="207.7" stroke-dasharray="5 3"/>
<line x1="3213.0" y1="172.0" x2="3321.0" y2="172.0" stroke-dasharray="5 3"/>
<line x1="3213.0" y1="136.4" x2="3321.0" y2="136.4" stroke-dasharray="5 3"/>
<line x1="3213.0" y1="100.7" x2="3321.0" y2="100.7" stroke-dasharray="5 3"/>
</g>
<g stroke="#262626" stroke-width="4" fill="none" shape-rendering="crispEdges">
<rect x="3211.0" y="65.0" width="112.0" height="892.0"/>
<line x1="3267.0" y1="65.0" x2="3267.0" y2="76.0"/>
<line x1="3267.0" y1="957.0" x2="3267.0" y2="946.0"/>
<line x1="3211.0" y1="778.6" x2="3222.0" y2="778.6"/>
<line x1="3323.0" y1="778.6" x2="3312.0" y2="778.6"/>
<line x1="3211.0" y1="600.2" x2="3222.0" y2="600.2"/>
<line x1="3323.0" y1="600.2" x2="3312.0" y2="600.2"/>
<line x1="3211.0" y1="421.8" x2="3222.0" y2="421.8"/>
<line x1="3323.0" y1="421.8" x2="3312.0" y2="421.8"/>
<line x1="3211.0" y1="243.4" x2="3222.0" y2="243.4"/>
<line x1="3323.0" y1="243.4" x2="3312.0" y2="243.4"/>
</g>
<text x="3208.46" y="1002.1" font-size="33.4" fill="#262626">03</text>
<text x="3262.04" y="1002.1" font-size="33.4" fill="#262626">Mar.</text>
<text x="3208.46" y="1050.1" font-size="33.4" fill="#262626">09</text>
<text x="3262.04" y="1050.1" font-size="33.4" fill="#262626">Mar.</text>
<rect x="3375.9" y="257.8" width="45.2" height="578.2" fill="#ebebeb"/>
<path d="M3375.9 836.0 V257.8 H3421.1 V836.0 Z" fill="none" stroke="#000" stroke-width="2.2" stroke-dasharray="9 7"/>
<rect x="3388.0" y="702.0" width="21" height="20.8" fill="#000"/>
<path d="M3382.4 346.2 L3414.6 346.2 L3398.5 373.9 Z" fill="#0000ff"/>
<path d="M3382.4 785.5 L3414.6 785.5 L3398.5 757.8 Z" fill="#0000ff"/>
<g stroke="#262626" stroke-opacity="0.15" stroke-width="4" fill="none" shape-rendering="crispEdges">
<line x1="3344.0" y1="921.3" x2="3453.0" y2="921.3" stroke-dasharray="5 3"/>
<line x1="3344.0" y1="885.6" x2="3453.0" y2="885.6" stroke-dasharray="5 3"/>
<line x1="3344.0" y1="850.0" x2="3453.0" y2="850.0" stroke-dasharray="5 3"/>
<line x1="3344.0" y1="814.3" x2="3453.0" y2="814.3" stroke-dasharray="5 3"/>
<line x1="3344.0" y1="778.6" x2="3453.0" y2="778.6" stroke-opacity="0.36"/>
<line x1="3344.0" y1="742.9" x2="3453.0" y2="742.9" stroke-dasharray="5 3"/>
<line x1="3344.0" y1="707.2" x2="3453.0" y2="707.2" stroke-dasharray="5 3"/>
<line x1="3344.0" y1="671.6" x2="3453.0" y2="671.6" stroke-dasharray="5 3"/>
<line x1="3344.0" y1="635.9" x2="3453.0" y2="635.9" stroke-dasharray="5 3"/>
<line x1="3344.0" y1="600.2" x2="3453.0" y2="600.2" stroke-opacity="0.36"/>
<line x1="3344.0" y1="564.5" x2="3453.0" y2="564.5" stroke-dasharray="5 3"/>
<line x1="3344.0" y1="528.8" x2="3453.0" y2="528.8" stroke-dasharray="5 3"/>
<line x1="3344.0" y1="493.2" x2="3453.0" y2="493.2" stroke-dasharray="5 3"/>
<line x1="3344.0" y1="457.5" x2="3453.0" y2="457.5" stroke-dasharray="5 3"/>
<line x1="3344.0" y1="421.8" x2="3453.0" y2="421.8" stroke-opacity="0.36"/>
<line x1="3344.0" y1="386.1" x2="3453.0" y2="386.1" stroke-dasharray="5 3"/>
<line x1="3344.0" y1="350.4" x2="3453.0" y2="350.4" stroke-dasharray="5 3"/>
<line x1="3344.0" y1="314.8" x2="3453.0" y2="314.8" stroke-dasharray="5 3"/>
<line x1="3344.0" y1="279.1" x2="3453.0" y2="279.1" stroke-dasharray="5 3"/>
<line x1="3344.0" y1="243.4" x2="3453.0" y2="243.4" stroke-opacity="0.36"/>
<line x1="3344.0" y1="207.7" x2="3453.0" y2="207.7" stroke-dasharray="5 3"/>
<line x1="3344.0" y1="172.0" x2="3453.0" y2="172.0" stroke-dasharray="5 3"/>
<line x1="3344.0" y1="136.4" x2="3453.0" y2="136.4" stroke-dasharray="5 3"/>
<line x1="3344.0" y1="100.7" x2="3453.0" y2="100.7" stroke-dasharray="5 3"/>
</g>
<g stroke="#262626" stroke-width="4" fill="none" shape-rendering="crispEdges">
<rect x="3342.0" y="65.0" width="113.0" height="892.0"/>
<line x1="3398.5" y1="65.0" x2="3398.5" y2="76.0"/>
<line x1="3398.5" y1="957.0" x2="3398.5" y2="946.0"/>
<line x1="3342.0" y1="778.6" x2="3353.0" y2="778.6"/>
<line x1="3455.0" y1="778.6" x2="3444.0" y2="778.6"/>
<line x1="3342.0" y1="600.2" x2="3353.0" y2="600.2"/>
<line x1="3455.0" y1="600.2" x2="3444.0" y2="600.2"/>
<line x1="3342.0" y1="421.8" x2="3353.0" y2="421.8"/>
<line x1="3455.0" y1="421.8" x2="3444.0" y2="421.8"/>
<line x1="3342.0" y1="243.4" x2="3353.0" y2="243.4"/>
<line x1="3455.0" y1="243.4" x2="3444.0" y2="243.4"/>
</g>
<text x="3338.30" y="1002.1" font-size="33.4" fill="#262626">10</text>
<text x="3394.04" y="1002.1" font-size="33.4" fill="#262626">Mar.</text>
<text x="3338.30" y="1050.1" font-size="33.4" fill="#262626">16</text>
<text x="3394.04" y="1050.1" font-size="33.4" fill="#262626">Mar.</text>
</svg></body></html>
